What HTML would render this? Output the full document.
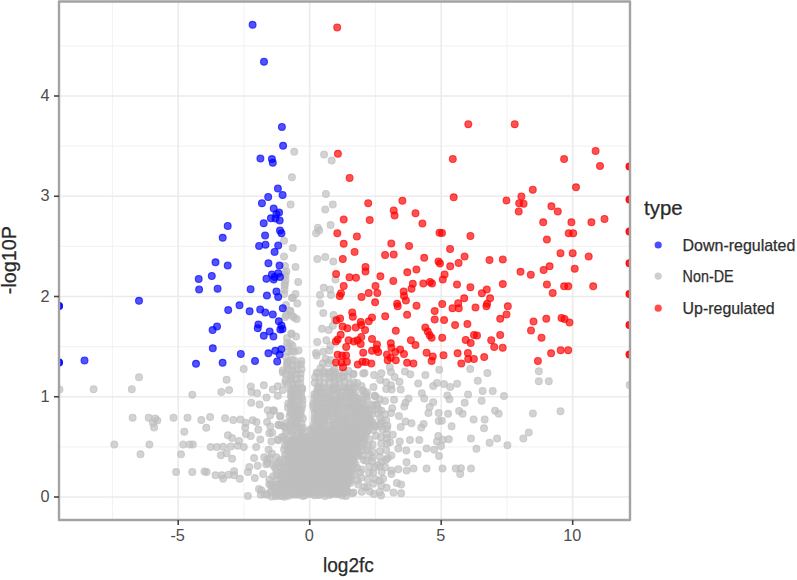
<!DOCTYPE html>
<html><head><meta charset="utf-8"><style>
html,body{margin:0;padding:0;background:#fff;width:797px;height:580px;overflow:hidden}
svg{display:block}
#w{width:797px;height:580px}
text{font-family:"Liberation Sans",sans-serif}
.gm{stroke:#f3f3f3;stroke-width:1.1}
.gM{stroke:#ebebeb;stroke-width:1.6}
.tk{stroke:#444;stroke-width:1.6}
.tl{font-size:16.3px;fill:#4d4d4d}
.at{font-size:20.5px;fill:#2a2a2a;stroke:#2a2a2a;stroke-width:0.25px}
.lg{font-size:16.2px;fill:#2e2e2e;stroke:#2e2e2e;stroke-width:0.25px}
</style></head><body><div id="w">
<svg width="797" height="580" viewBox="0 0 797 580">
<rect width="797" height="580" fill="#fff"/>
<g><line x1="112.45" y1="1.5" x2="112.45" y2="520" class="gm"/><line x1="243.95" y1="1.5" x2="243.95" y2="520" class="gm"/><line x1="375.45" y1="1.5" x2="375.45" y2="520" class="gm"/><line x1="506.95" y1="1.5" x2="506.95" y2="520" class="gm"/><line x1="59" y1="446.88" x2="630" y2="446.88" class="gm"/><line x1="59" y1="346.62" x2="630" y2="346.62" class="gm"/><line x1="59" y1="246.38" x2="630" y2="246.38" class="gm"/><line x1="59" y1="146.12" x2="630" y2="146.12" class="gm"/><line x1="59" y1="45.88" x2="630" y2="45.88" class="gm"/><line x1="178.20" y1="1.5" x2="178.20" y2="520" class="gM"/><line x1="309.70" y1="1.5" x2="309.70" y2="520" class="gM"/><line x1="441.20" y1="1.5" x2="441.20" y2="520" class="gM"/><line x1="572.70" y1="1.5" x2="572.70" y2="520" class="gM"/><line x1="59" y1="497.00" x2="630" y2="497.00" class="gM"/><line x1="59" y1="396.75" x2="630" y2="396.75" class="gM"/><line x1="59" y1="296.50" x2="630" y2="296.50" class="gM"/><line x1="59" y1="196.25" x2="630" y2="196.25" class="gM"/><line x1="59" y1="96.00" x2="630" y2="96.00" class="gM"/></g>
<defs><clipPath id="cp"><rect x="59" y="1.5" width="571" height="518.5"/></clipPath></defs>
<g clip-path="url(#cp)">

<g fill="#bebebe" fill-opacity="0.68" stroke="#bebebe" stroke-opacity="0.68" stroke-width="1.1">
<circle cx="294.2" cy="151.8" r="3.45"/>
<circle cx="291.9" cy="177.3" r="3.45"/>
<circle cx="324.1" cy="154.6" r="3.45"/>
<circle cx="331.7" cy="160.6" r="3.45"/>
<circle cx="325.9" cy="193.9" r="3.45"/>
<circle cx="290.6" cy="204.5" r="3.45"/>
<circle cx="332.8" cy="204.5" r="3.45"/>
<circle cx="325.2" cy="209.6" r="3.45"/>
<circle cx="330.6" cy="225.0" r="3.45"/>
<circle cx="317.9" cy="227.7" r="3.45"/>
<circle cx="319.2" cy="230.5" r="3.45"/>
<circle cx="316.1" cy="233.2" r="3.45"/>
<circle cx="284.0" cy="240.8" r="3.45"/>
<circle cx="292.8" cy="248.1" r="3.45"/>
<circle cx="284.0" cy="256.5" r="3.45"/>
<circle cx="317.3" cy="259.0" r="3.45"/>
<circle cx="325.2" cy="256.9" r="3.45"/>
<circle cx="333.3" cy="261.4" r="3.45"/>
<circle cx="295.5" cy="266.9" r="3.45"/>
<circle cx="286.4" cy="271.4" r="3.45"/>
<circle cx="285.5" cy="276.0" r="3.45"/>
<circle cx="285.5" cy="280.5" r="3.45"/>
<circle cx="298.2" cy="282.0" r="3.45"/>
<circle cx="335.5" cy="279.6" r="3.45"/>
<circle cx="284.6" cy="286.0" r="3.45"/>
<circle cx="323.7" cy="287.8" r="3.45"/>
<circle cx="330.1" cy="289.6" r="3.45"/>
<circle cx="284.0" cy="294.1" r="3.45"/>
<circle cx="295.5" cy="294.1" r="3.45"/>
<circle cx="320.0" cy="295.0" r="3.45"/>
<circle cx="331.0" cy="295.0" r="3.45"/>
<circle cx="291.9" cy="297.8" r="3.45"/>
<circle cx="139.0" cy="377.2" r="3.45"/>
<circle cx="93.6" cy="389.2" r="3.45"/>
<circle cx="131.8" cy="389.2" r="3.45"/>
<circle cx="59.5" cy="389.6" r="3.45"/>
<circle cx="192.3" cy="394.7" r="3.45"/>
<circle cx="292.9" cy="298.1" r="3.45"/>
<circle cx="290.4" cy="311.3" r="3.45"/>
<circle cx="294.1" cy="317.6" r="3.45"/>
<circle cx="285.3" cy="317.0" r="3.45"/>
<circle cx="291.6" cy="333.9" r="3.45"/>
<circle cx="290.4" cy="343.9" r="3.45"/>
<circle cx="287.8" cy="346.4" r="3.45"/>
<circle cx="291.6" cy="351.5" r="3.45"/>
<circle cx="287.8" cy="361.5" r="3.45"/>
<circle cx="294.1" cy="360.2" r="3.45"/>
<circle cx="297.3" cy="303.4" r="3.45"/>
<circle cx="290.1" cy="310.7" r="3.45"/>
<circle cx="286.5" cy="314.9" r="3.45"/>
<circle cx="292.5" cy="316.1" r="3.45"/>
<circle cx="296.7" cy="319.1" r="3.45"/>
<circle cx="291.3" cy="333.6" r="3.45"/>
<circle cx="296.1" cy="336.6" r="3.45"/>
<circle cx="287.1" cy="343.3" r="3.45"/>
<circle cx="292.5" cy="345.7" r="3.45"/>
<circle cx="298.5" cy="350.5" r="3.45"/>
<circle cx="288.3" cy="351.7" r="3.45"/>
<circle cx="294.3" cy="351.7" r="3.45"/>
<circle cx="291.9" cy="360.1" r="3.45"/>
<circle cx="287.1" cy="362.6" r="3.45"/>
<circle cx="320.2" cy="303.4" r="3.45"/>
<circle cx="323.3" cy="313.1" r="3.45"/>
<circle cx="333.5" cy="314.9" r="3.45"/>
<circle cx="334.7" cy="319.7" r="3.45"/>
<circle cx="322.0" cy="328.8" r="3.45"/>
<circle cx="328.7" cy="330.0" r="3.45"/>
<circle cx="332.9" cy="325.8" r="3.45"/>
<circle cx="317.2" cy="342.0" r="3.45"/>
<circle cx="326.3" cy="340.2" r="3.45"/>
<circle cx="330.5" cy="345.7" r="3.45"/>
<circle cx="316.0" cy="352.9" r="3.45"/>
<circle cx="323.3" cy="351.7" r="3.45"/>
<circle cx="329.3" cy="350.5" r="3.45"/>
<circle cx="325.7" cy="358.9" r="3.45"/>
<circle cx="330.5" cy="360.1" r="3.45"/>
<circle cx="243.7" cy="369.0" r="3.45"/>
<circle cx="226.6" cy="379.8" r="3.45"/>
<circle cx="221.3" cy="392.0" r="3.45"/>
<circle cx="229.1" cy="390.1" r="3.45"/>
<circle cx="250.8" cy="386.6" r="3.45"/>
<circle cx="251.5" cy="392.0" r="3.45"/>
<circle cx="257.1" cy="393.2" r="3.45"/>
<circle cx="263.8" cy="385.3" r="3.45"/>
<circle cx="266.5" cy="397.4" r="3.45"/>
<circle cx="251.2" cy="402.7" r="3.45"/>
<circle cx="259.6" cy="404.5" r="3.45"/>
<circle cx="272.8" cy="389.5" r="3.45"/>
<circle cx="277.8" cy="386.3" r="3.45"/>
<circle cx="277.8" cy="395.8" r="3.45"/>
<circle cx="282.8" cy="372.5" r="3.45"/>
<circle cx="287.8" cy="365.0" r="3.45"/>
<circle cx="290.4" cy="377.6" r="3.45"/>
<circle cx="282.8" cy="390.1" r="3.45"/>
<circle cx="285.3" cy="382.6" r="3.45"/>
<circle cx="292.9" cy="385.1" r="3.45"/>
<circle cx="291.6" cy="397.6" r="3.45"/>
<circle cx="291.6" cy="405.2" r="3.45"/>
<circle cx="267.8" cy="410.2" r="3.45"/>
<circle cx="274.0" cy="410.8" r="3.45"/>
<circle cx="270.3" cy="415.2" r="3.45"/>
<circle cx="280.3" cy="416.5" r="3.45"/>
<circle cx="201.3" cy="420.0" r="3.45"/>
<circle cx="210.1" cy="417.1" r="3.45"/>
<circle cx="225.1" cy="418.3" r="3.45"/>
<circle cx="233.3" cy="420.0" r="3.45"/>
<circle cx="240.4" cy="419.6" r="3.45"/>
<circle cx="245.8" cy="422.7" r="3.45"/>
<circle cx="252.7" cy="420.2" r="3.45"/>
<circle cx="256.5" cy="422.1" r="3.45"/>
<circle cx="267.1" cy="422.1" r="3.45"/>
<circle cx="206.3" cy="427.8" r="3.45"/>
<circle cx="245.2" cy="427.8" r="3.45"/>
<circle cx="270.3" cy="426.5" r="3.45"/>
<circle cx="279.1" cy="425.2" r="3.45"/>
<circle cx="285.3" cy="426.5" r="3.45"/>
<circle cx="290.4" cy="412.7" r="3.45"/>
<circle cx="294.1" cy="419.0" r="3.45"/>
<circle cx="292.9" cy="371.3" r="3.45"/>
<circle cx="132.6" cy="417.7" r="3.45"/>
<circle cx="148.7" cy="417.7" r="3.45"/>
<circle cx="155.2" cy="418.4" r="3.45"/>
<circle cx="157.3" cy="420.5" r="3.45"/>
<circle cx="153.0" cy="423.1" r="3.45"/>
<circle cx="154.1" cy="427.4" r="3.45"/>
<circle cx="173.5" cy="417.7" r="3.45"/>
<circle cx="187.5" cy="417.7" r="3.45"/>
<circle cx="184.3" cy="431.7" r="3.45"/>
<circle cx="114.3" cy="444.6" r="3.45"/>
<circle cx="149.4" cy="444.6" r="3.45"/>
<circle cx="183.2" cy="444.6" r="3.45"/>
<circle cx="189.7" cy="444.6" r="3.45"/>
<circle cx="192.9" cy="444.6" r="3.45"/>
<circle cx="140.5" cy="454.3" r="3.45"/>
<circle cx="181.0" cy="454.3" r="3.45"/>
<circle cx="176.1" cy="472.0" r="3.45"/>
<circle cx="192.3" cy="472.0" r="3.45"/>
<circle cx="227.9" cy="435.3" r="3.45"/>
<circle cx="232.1" cy="438.1" r="3.45"/>
<circle cx="239.0" cy="440.9" r="3.45"/>
<circle cx="210.7" cy="447.1" r="3.45"/>
<circle cx="216.9" cy="447.1" r="3.45"/>
<circle cx="223.1" cy="446.8" r="3.45"/>
<circle cx="230.7" cy="446.4" r="3.45"/>
<circle cx="237.6" cy="445.7" r="3.45"/>
<circle cx="243.8" cy="447.1" r="3.45"/>
<circle cx="221.0" cy="455.3" r="3.45"/>
<circle cx="226.6" cy="453.3" r="3.45"/>
<circle cx="232.1" cy="458.8" r="3.45"/>
<circle cx="204.5" cy="471.6" r="3.45"/>
<circle cx="206.6" cy="471.9" r="3.45"/>
<circle cx="215.5" cy="475.3" r="3.45"/>
<circle cx="221.7" cy="475.3" r="3.45"/>
<circle cx="223.1" cy="478.8" r="3.45"/>
<circle cx="228.6" cy="474.7" r="3.45"/>
<circle cx="234.1" cy="471.2" r="3.45"/>
<circle cx="234.1" cy="475.3" r="3.45"/>
<circle cx="239.7" cy="478.8" r="3.45"/>
<circle cx="245.9" cy="434.0" r="3.45"/>
<circle cx="250.7" cy="436.0" r="3.45"/>
<circle cx="258.3" cy="429.8" r="3.45"/>
<circle cx="260.3" cy="439.5" r="3.45"/>
<circle cx="256.2" cy="447.1" r="3.45"/>
<circle cx="254.1" cy="458.1" r="3.45"/>
<circle cx="249.3" cy="467.1" r="3.45"/>
<circle cx="247.9" cy="471.9" r="3.45"/>
<circle cx="257.6" cy="465.7" r="3.45"/>
<circle cx="254.8" cy="478.1" r="3.45"/>
<circle cx="263.1" cy="474.0" r="3.45"/>
<circle cx="247.9" cy="496.0" r="3.45"/>
<circle cx="259.0" cy="489.1" r="3.45"/>
<circle cx="264.5" cy="494.0" r="3.45"/>
<circle cx="269.3" cy="433.3" r="3.45"/>
<circle cx="271.4" cy="441.6" r="3.45"/>
<circle cx="268.6" cy="449.8" r="3.45"/>
<circle cx="278.3" cy="440.2" r="3.45"/>
<circle cx="267.2" cy="459.5" r="3.45"/>
<circle cx="272.8" cy="465.0" r="3.45"/>
<circle cx="269.3" cy="479.5" r="3.45"/>
<circle cx="275.5" cy="491.2" r="3.45"/>
<circle cx="273.4" cy="410.3" r="3.45"/>
<circle cx="280.1" cy="415.9" r="3.45"/>
<circle cx="278.4" cy="424.8" r="3.45"/>
<circle cx="283.4" cy="425.9" r="3.45"/>
<circle cx="272.2" cy="432.7" r="3.45"/>
<circle cx="277.8" cy="439.4" r="3.45"/>
<circle cx="353.6" cy="373.9" r="3.45"/>
<circle cx="364.5" cy="373.0" r="3.45"/>
<circle cx="374.1" cy="375.1" r="3.45"/>
<circle cx="381.4" cy="373.3" r="3.45"/>
<circle cx="391.0" cy="372.1" r="3.45"/>
<circle cx="389.8" cy="367.2" r="3.45"/>
<circle cx="394.6" cy="376.9" r="3.45"/>
<circle cx="404.9" cy="371.5" r="3.45"/>
<circle cx="410.3" cy="374.2" r="3.45"/>
<circle cx="425.4" cy="375.1" r="3.45"/>
<circle cx="439.3" cy="369.7" r="3.45"/>
<circle cx="357.2" cy="382.9" r="3.45"/>
<circle cx="380.2" cy="379.9" r="3.45"/>
<circle cx="386.2" cy="382.3" r="3.45"/>
<circle cx="391.0" cy="385.3" r="3.45"/>
<circle cx="386.2" cy="389.0" r="3.45"/>
<circle cx="391.6" cy="389.6" r="3.45"/>
<circle cx="399.5" cy="381.7" r="3.45"/>
<circle cx="400.7" cy="389.6" r="3.45"/>
<circle cx="373.5" cy="387.1" r="3.45"/>
<circle cx="418.2" cy="383.5" r="3.45"/>
<circle cx="433.2" cy="385.9" r="3.45"/>
<circle cx="436.9" cy="382.9" r="3.45"/>
<circle cx="351.2" cy="389.0" r="3.45"/>
<circle cx="362.1" cy="390.2" r="3.45"/>
<circle cx="365.7" cy="394.4" r="3.45"/>
<circle cx="375.3" cy="396.2" r="3.45"/>
<circle cx="379.6" cy="399.2" r="3.45"/>
<circle cx="385.0" cy="401.0" r="3.45"/>
<circle cx="394.0" cy="399.8" r="3.45"/>
<circle cx="421.8" cy="393.2" r="3.45"/>
<circle cx="424.2" cy="398.6" r="3.45"/>
<circle cx="408.5" cy="398.6" r="3.45"/>
<circle cx="405.5" cy="402.8" r="3.45"/>
<circle cx="404.3" cy="406.4" r="3.45"/>
<circle cx="433.2" cy="402.2" r="3.45"/>
<circle cx="429.6" cy="407.0" r="3.45"/>
<circle cx="428.4" cy="413.1" r="3.45"/>
<circle cx="438.7" cy="413.1" r="3.45"/>
<circle cx="392.2" cy="408.3" r="3.45"/>
<circle cx="391.0" cy="413.1" r="3.45"/>
<circle cx="398.9" cy="416.1" r="3.45"/>
<circle cx="405.5" cy="421.5" r="3.45"/>
<circle cx="411.5" cy="423.3" r="3.45"/>
<circle cx="400.7" cy="426.9" r="3.45"/>
<circle cx="423.6" cy="423.9" r="3.45"/>
<circle cx="421.2" cy="427.6" r="3.45"/>
<circle cx="438.7" cy="420.9" r="3.45"/>
<circle cx="381.4" cy="410.7" r="3.45"/>
<circle cx="385.0" cy="414.3" r="3.45"/>
<circle cx="380.2" cy="417.9" r="3.45"/>
<circle cx="386.2" cy="420.3" r="3.45"/>
<circle cx="380.2" cy="423.9" r="3.45"/>
<circle cx="387.4" cy="425.7" r="3.45"/>
<circle cx="374.1" cy="425.1" r="3.45"/>
<circle cx="371.7" cy="410.7" r="3.45"/>
<circle cx="372.9" cy="405.8" r="3.45"/>
<circle cx="392.8" cy="434.7" r="3.45"/>
<circle cx="399.7" cy="441.6" r="3.45"/>
<circle cx="410.0" cy="439.9" r="3.45"/>
<circle cx="419.3" cy="439.9" r="3.45"/>
<circle cx="426.6" cy="448.5" r="3.45"/>
<circle cx="434.2" cy="449.8" r="3.45"/>
<circle cx="437.0" cy="441.6" r="3.45"/>
<circle cx="438.3" cy="436.0" r="3.45"/>
<circle cx="439.0" cy="456.1" r="3.45"/>
<circle cx="406.3" cy="450.5" r="3.45"/>
<circle cx="417.6" cy="454.3" r="3.45"/>
<circle cx="398.3" cy="448.5" r="3.45"/>
<circle cx="406.6" cy="462.3" r="3.45"/>
<circle cx="391.4" cy="470.6" r="3.45"/>
<circle cx="398.3" cy="469.2" r="3.45"/>
<circle cx="406.6" cy="470.6" r="3.45"/>
<circle cx="413.5" cy="468.5" r="3.45"/>
<circle cx="426.6" cy="468.5" r="3.45"/>
<circle cx="391.4" cy="474.0" r="3.45"/>
<circle cx="383.1" cy="478.8" r="3.45"/>
<circle cx="396.9" cy="483.0" r="3.45"/>
<circle cx="401.1" cy="484.4" r="3.45"/>
<circle cx="386.6" cy="487.8" r="3.45"/>
<circle cx="393.5" cy="492.6" r="3.45"/>
<circle cx="401.1" cy="493.3" r="3.45"/>
<circle cx="381.1" cy="495.4" r="3.45"/>
<circle cx="390.0" cy="442.3" r="3.45"/>
<circle cx="391.4" cy="455.4" r="3.45"/>
<circle cx="377.6" cy="465.0" r="3.45"/>
<circle cx="470.2" cy="369.0" r="3.45"/>
<circle cx="487.4" cy="373.1" r="3.45"/>
<circle cx="477.8" cy="380.7" r="3.45"/>
<circle cx="444.0" cy="384.1" r="3.45"/>
<circle cx="450.2" cy="386.9" r="3.45"/>
<circle cx="457.1" cy="383.7" r="3.45"/>
<circle cx="482.6" cy="391.0" r="3.45"/>
<circle cx="492.7" cy="391.0" r="3.45"/>
<circle cx="468.1" cy="394.5" r="3.45"/>
<circle cx="447.4" cy="395.6" r="3.45"/>
<circle cx="449.5" cy="399.3" r="3.45"/>
<circle cx="504.0" cy="396.1" r="3.45"/>
<circle cx="481.6" cy="400.7" r="3.45"/>
<circle cx="464.7" cy="402.8" r="3.45"/>
<circle cx="448.1" cy="413.8" r="3.45"/>
<circle cx="459.1" cy="411.0" r="3.45"/>
<circle cx="462.6" cy="413.8" r="3.45"/>
<circle cx="495.0" cy="410.8" r="3.45"/>
<circle cx="498.7" cy="413.8" r="3.45"/>
<circle cx="441.9" cy="420.7" r="3.45"/>
<circle cx="451.6" cy="426.2" r="3.45"/>
<circle cx="473.6" cy="419.6" r="3.45"/>
<circle cx="484.7" cy="419.6" r="3.45"/>
<circle cx="484.0" cy="428.3" r="3.45"/>
<circle cx="532.9" cy="413.5" r="3.45"/>
<circle cx="528.8" cy="432.4" r="3.45"/>
<circle cx="448.8" cy="439.3" r="3.45"/>
<circle cx="470.9" cy="438.6" r="3.45"/>
<circle cx="497.1" cy="438.6" r="3.45"/>
<circle cx="523.3" cy="438.6" r="3.45"/>
<circle cx="442.8" cy="439.7" r="3.45"/>
<circle cx="441.0" cy="446.0" r="3.45"/>
<circle cx="476.4" cy="448.8" r="3.45"/>
<circle cx="489.6" cy="442.7" r="3.45"/>
<circle cx="507.4" cy="445.3" r="3.45"/>
<circle cx="442.5" cy="468.6" r="3.45"/>
<circle cx="455.7" cy="468.6" r="3.45"/>
<circle cx="460.9" cy="468.2" r="3.45"/>
<circle cx="460.2" cy="474.0" r="3.45"/>
<circle cx="471.0" cy="468.6" r="3.45"/>
<circle cx="538.8" cy="371.2" r="3.45"/>
<circle cx="538.8" cy="381.2" r="3.45"/>
<circle cx="548.8" cy="381.2" r="3.45"/>
<circle cx="560.5" cy="411.2" r="3.45"/>
<circle cx="629.6" cy="385.0" r="3.45"/>
<circle cx="316.6" cy="355.5" r="3.45"/>
<circle cx="322.9" cy="363.3" r="3.45"/>
<circle cx="328.3" cy="363.3" r="3.45"/>
<circle cx="320.5" cy="367.9" r="3.45"/>
<circle cx="316.6" cy="372.6" r="3.45"/>
<circle cx="315.1" cy="377.3" r="3.45"/>
<circle cx="328.3" cy="373.4" r="3.45"/>
<circle cx="333.0" cy="371.0" r="3.45"/>
<circle cx="336.1" cy="374.9" r="3.45"/>
<circle cx="332.2" cy="377.3" r="3.45"/>
<circle cx="342.2" cy="376.5" r="3.45"/>
<circle cx="348.4" cy="371.0" r="3.45"/>
<circle cx="353.1" cy="374.1" r="3.45"/>
<circle cx="363.2" cy="373.4" r="3.45"/>
<circle cx="324.0" cy="371.0" r="3.45"/>
<circle cx="284.8" cy="273.4" r="3.45"/>
<circle cx="284.8" cy="283.8" r="3.45"/>
<circle cx="284.5" cy="290.0" r="3.45"/>
<circle cx="286.0" cy="305.0" r="3.45"/>
<circle cx="287.0" cy="338.0" r="3.45"/>
<circle cx="286.0" cy="357.0" r="3.45"/>
<circle cx="285.0" cy="266.0" r="3.45"/>
<circle cx="290.5" cy="390.5" r="3.45"/>
<circle cx="293.5" cy="389.0" r="3.45"/>
<circle cx="298.4" cy="390.8" r="3.45"/>
<circle cx="302.0" cy="389.5" r="3.45"/>
<circle cx="291.6" cy="392.9" r="3.45"/>
<circle cx="293.5" cy="392.5" r="3.45"/>
<circle cx="297.6" cy="394.2" r="3.45"/>
<circle cx="301.0" cy="393.6" r="3.45"/>
<circle cx="290.8" cy="396.1" r="3.45"/>
<circle cx="293.3" cy="396.4" r="3.45"/>
<circle cx="298.5" cy="396.9" r="3.45"/>
<circle cx="301.4" cy="397.3" r="3.45"/>
<circle cx="291.4" cy="401.3" r="3.45"/>
<circle cx="293.8" cy="401.0" r="3.45"/>
<circle cx="298.2" cy="401.7" r="3.45"/>
<circle cx="302.4" cy="400.3" r="3.45"/>
<circle cx="288.2" cy="403.6" r="3.45"/>
<circle cx="290.5" cy="405.1" r="3.45"/>
<circle cx="293.6" cy="404.5" r="3.45"/>
<circle cx="297.0" cy="404.9" r="3.45"/>
<circle cx="302.4" cy="404.7" r="3.45"/>
<circle cx="287.9" cy="407.8" r="3.45"/>
<circle cx="291.2" cy="408.4" r="3.45"/>
<circle cx="294.6" cy="408.1" r="3.45"/>
<circle cx="298.9" cy="409.3" r="3.45"/>
<circle cx="301.7" cy="408.6" r="3.45"/>
<circle cx="291.1" cy="413.1" r="3.45"/>
<circle cx="295.2" cy="411.4" r="3.45"/>
<circle cx="297.8" cy="412.3" r="3.45"/>
<circle cx="300.7" cy="411.8" r="3.45"/>
<circle cx="289.6" cy="416.2" r="3.45"/>
<circle cx="293.5" cy="415.0" r="3.45"/>
<circle cx="297.8" cy="416.5" r="3.45"/>
<circle cx="300.8" cy="415.5" r="3.45"/>
<circle cx="291.5" cy="420.2" r="3.45"/>
<circle cx="293.9" cy="419.1" r="3.45"/>
<circle cx="297.8" cy="420.2" r="3.45"/>
<circle cx="302.9" cy="418.5" r="3.45"/>
<circle cx="290.1" cy="423.0" r="3.45"/>
<circle cx="294.6" cy="422.4" r="3.45"/>
<circle cx="296.9" cy="422.8" r="3.45"/>
<circle cx="301.5" cy="423.2" r="3.45"/>
<circle cx="290.7" cy="427.0" r="3.45"/>
<circle cx="294.8" cy="425.6" r="3.45"/>
<circle cx="299.1" cy="427.4" r="3.45"/>
<circle cx="302.7" cy="427.4" r="3.45"/>
<circle cx="289.7" cy="430.7" r="3.45"/>
<circle cx="293.3" cy="429.4" r="3.45"/>
<circle cx="297.4" cy="429.6" r="3.45"/>
<circle cx="301.4" cy="429.3" r="3.45"/>
<circle cx="335.9" cy="385.1" r="3.45"/>
<circle cx="318.1" cy="387.7" r="3.45"/>
<circle cx="321.4" cy="388.4" r="3.45"/>
<circle cx="323.7" cy="388.1" r="3.45"/>
<circle cx="329.4" cy="388.4" r="3.45"/>
<circle cx="332.7" cy="387.6" r="3.45"/>
<circle cx="335.0" cy="388.4" r="3.45"/>
<circle cx="339.1" cy="388.4" r="3.45"/>
<circle cx="344.3" cy="387.5" r="3.45"/>
<circle cx="346.7" cy="388.8" r="3.45"/>
<circle cx="316.9" cy="391.3" r="3.45"/>
<circle cx="321.2" cy="392.4" r="3.45"/>
<circle cx="324.5" cy="392.4" r="3.45"/>
<circle cx="328.4" cy="391.5" r="3.45"/>
<circle cx="332.2" cy="390.2" r="3.45"/>
<circle cx="335.7" cy="390.6" r="3.45"/>
<circle cx="338.3" cy="392.1" r="3.45"/>
<circle cx="342.4" cy="391.3" r="3.45"/>
<circle cx="347.4" cy="391.5" r="3.45"/>
<circle cx="350.2" cy="391.4" r="3.45"/>
<circle cx="314.4" cy="394.2" r="3.45"/>
<circle cx="316.4" cy="395.0" r="3.45"/>
<circle cx="320.0" cy="394.5" r="3.45"/>
<circle cx="323.7" cy="395.5" r="3.45"/>
<circle cx="329.1" cy="396.1" r="3.45"/>
<circle cx="331.3" cy="395.6" r="3.45"/>
<circle cx="336.2" cy="394.2" r="3.45"/>
<circle cx="340.4" cy="396.2" r="3.45"/>
<circle cx="342.5" cy="396.2" r="3.45"/>
<circle cx="346.7" cy="395.1" r="3.45"/>
<circle cx="351.8" cy="395.9" r="3.45"/>
<circle cx="353.5" cy="394.9" r="3.45"/>
<circle cx="314.4" cy="398.2" r="3.45"/>
<circle cx="316.5" cy="399.8" r="3.45"/>
<circle cx="321.2" cy="399.3" r="3.45"/>
<circle cx="323.7" cy="397.7" r="3.45"/>
<circle cx="328.9" cy="398.6" r="3.45"/>
<circle cx="331.1" cy="399.9" r="3.45"/>
<circle cx="336.1" cy="399.5" r="3.45"/>
<circle cx="338.5" cy="399.7" r="3.45"/>
<circle cx="342.2" cy="399.7" r="3.45"/>
<circle cx="346.8" cy="398.4" r="3.45"/>
<circle cx="350.7" cy="399.8" r="3.45"/>
<circle cx="353.7" cy="397.9" r="3.45"/>
<circle cx="358.1" cy="398.2" r="3.45"/>
<circle cx="313.6" cy="403.3" r="3.45"/>
<circle cx="317.0" cy="402.5" r="3.45"/>
<circle cx="321.5" cy="403.7" r="3.45"/>
<circle cx="324.3" cy="403.3" r="3.45"/>
<circle cx="328.9" cy="402.8" r="3.45"/>
<circle cx="331.9" cy="402.1" r="3.45"/>
<circle cx="334.7" cy="401.6" r="3.45"/>
<circle cx="338.5" cy="403.1" r="3.45"/>
<circle cx="342.6" cy="401.7" r="3.45"/>
<circle cx="345.9" cy="403.3" r="3.45"/>
<circle cx="351.5" cy="402.9" r="3.45"/>
<circle cx="353.8" cy="401.9" r="3.45"/>
<circle cx="357.5" cy="402.4" r="3.45"/>
<circle cx="360.9" cy="402.4" r="3.45"/>
<circle cx="313.1" cy="405.6" r="3.45"/>
<circle cx="317.5" cy="406.3" r="3.45"/>
<circle cx="321.6" cy="406.6" r="3.45"/>
<circle cx="325.2" cy="407.1" r="3.45"/>
<circle cx="328.1" cy="405.8" r="3.45"/>
<circle cx="333.3" cy="405.4" r="3.45"/>
<circle cx="336.3" cy="406.5" r="3.45"/>
<circle cx="338.4" cy="407.0" r="3.45"/>
<circle cx="344.1" cy="406.5" r="3.45"/>
<circle cx="347.5" cy="406.9" r="3.45"/>
<circle cx="349.7" cy="406.3" r="3.45"/>
<circle cx="354.3" cy="407.0" r="3.45"/>
<circle cx="358.7" cy="407.0" r="3.45"/>
<circle cx="361.9" cy="407.1" r="3.45"/>
<circle cx="365.8" cy="406.7" r="3.45"/>
<circle cx="314.2" cy="409.3" r="3.45"/>
<circle cx="316.3" cy="409.3" r="3.45"/>
<circle cx="321.6" cy="409.2" r="3.45"/>
<circle cx="325.3" cy="411.0" r="3.45"/>
<circle cx="328.4" cy="409.6" r="3.45"/>
<circle cx="332.0" cy="410.3" r="3.45"/>
<circle cx="336.4" cy="410.2" r="3.45"/>
<circle cx="339.8" cy="408.9" r="3.45"/>
<circle cx="342.4" cy="409.3" r="3.45"/>
<circle cx="347.5" cy="409.4" r="3.45"/>
<circle cx="350.8" cy="408.7" r="3.45"/>
<circle cx="353.2" cy="409.3" r="3.45"/>
<circle cx="358.4" cy="410.4" r="3.45"/>
<circle cx="362.1" cy="409.4" r="3.45"/>
<circle cx="365.4" cy="409.8" r="3.45"/>
<circle cx="314.7" cy="412.7" r="3.45"/>
<circle cx="318.1" cy="413.6" r="3.45"/>
<circle cx="321.9" cy="414.1" r="3.45"/>
<circle cx="324.1" cy="414.6" r="3.45"/>
<circle cx="328.4" cy="412.5" r="3.45"/>
<circle cx="330.9" cy="413.6" r="3.45"/>
<circle cx="335.7" cy="413.1" r="3.45"/>
<circle cx="338.6" cy="413.2" r="3.45"/>
<circle cx="342.8" cy="414.4" r="3.45"/>
<circle cx="345.7" cy="414.2" r="3.45"/>
<circle cx="351.4" cy="412.7" r="3.45"/>
<circle cx="355.3" cy="414.1" r="3.45"/>
<circle cx="359.0" cy="413.1" r="3.45"/>
<circle cx="361.4" cy="413.3" r="3.45"/>
<circle cx="366.6" cy="413.8" r="3.45"/>
<circle cx="368.8" cy="413.4" r="3.45"/>
<circle cx="314.7" cy="417.4" r="3.45"/>
<circle cx="317.8" cy="416.2" r="3.45"/>
<circle cx="321.6" cy="417.2" r="3.45"/>
<circle cx="325.3" cy="417.6" r="3.45"/>
<circle cx="327.9" cy="416.2" r="3.45"/>
<circle cx="333.1" cy="416.4" r="3.45"/>
<circle cx="335.7" cy="416.9" r="3.45"/>
<circle cx="339.0" cy="417.9" r="3.45"/>
<circle cx="344.3" cy="416.7" r="3.45"/>
<circle cx="347.3" cy="416.8" r="3.45"/>
<circle cx="350.7" cy="417.0" r="3.45"/>
<circle cx="353.5" cy="416.5" r="3.45"/>
<circle cx="357.3" cy="418.3" r="3.45"/>
<circle cx="361.7" cy="416.6" r="3.45"/>
<circle cx="366.4" cy="418.5" r="3.45"/>
<circle cx="369.0" cy="416.4" r="3.45"/>
<circle cx="314.7" cy="420.1" r="3.45"/>
<circle cx="317.3" cy="421.3" r="3.45"/>
<circle cx="321.9" cy="420.3" r="3.45"/>
<circle cx="324.2" cy="420.4" r="3.45"/>
<circle cx="328.2" cy="420.9" r="3.45"/>
<circle cx="333.2" cy="421.8" r="3.45"/>
<circle cx="336.7" cy="419.9" r="3.45"/>
<circle cx="338.4" cy="421.5" r="3.45"/>
<circle cx="344.1" cy="420.9" r="3.45"/>
<circle cx="347.1" cy="419.8" r="3.45"/>
<circle cx="350.3" cy="422.0" r="3.45"/>
<circle cx="355.1" cy="421.9" r="3.45"/>
<circle cx="359.1" cy="420.4" r="3.45"/>
<circle cx="360.8" cy="420.2" r="3.45"/>
<circle cx="365.5" cy="421.4" r="3.45"/>
<circle cx="370.2" cy="421.5" r="3.45"/>
<circle cx="313.7" cy="424.9" r="3.45"/>
<circle cx="317.0" cy="424.0" r="3.45"/>
<circle cx="321.2" cy="423.5" r="3.45"/>
<circle cx="324.2" cy="424.6" r="3.45"/>
<circle cx="329.5" cy="425.0" r="3.45"/>
<circle cx="333.0" cy="424.6" r="3.45"/>
<circle cx="335.2" cy="424.1" r="3.45"/>
<circle cx="340.6" cy="425.2" r="3.45"/>
<circle cx="342.7" cy="423.6" r="3.45"/>
<circle cx="346.9" cy="425.1" r="3.45"/>
<circle cx="350.4" cy="424.1" r="3.45"/>
<circle cx="354.7" cy="425.7" r="3.45"/>
<circle cx="357.3" cy="423.6" r="3.45"/>
<circle cx="361.3" cy="424.5" r="3.45"/>
<circle cx="365.8" cy="424.0" r="3.45"/>
<circle cx="369.8" cy="425.3" r="3.45"/>
<circle cx="310.3" cy="429.5" r="3.45"/>
<circle cx="312.8" cy="428.1" r="3.45"/>
<circle cx="316.6" cy="429.5" r="3.45"/>
<circle cx="320.1" cy="427.3" r="3.45"/>
<circle cx="323.6" cy="428.1" r="3.45"/>
<circle cx="329.4" cy="429.3" r="3.45"/>
<circle cx="332.7" cy="429.6" r="3.45"/>
<circle cx="336.8" cy="428.0" r="3.45"/>
<circle cx="338.7" cy="429.4" r="3.45"/>
<circle cx="343.8" cy="427.3" r="3.45"/>
<circle cx="347.3" cy="428.1" r="3.45"/>
<circle cx="350.3" cy="428.0" r="3.45"/>
<circle cx="353.5" cy="427.2" r="3.45"/>
<circle cx="357.5" cy="428.0" r="3.45"/>
<circle cx="362.8" cy="427.5" r="3.45"/>
<circle cx="366.5" cy="427.7" r="3.45"/>
<circle cx="368.8" cy="429.2" r="3.45"/>
<circle cx="302.3" cy="432.8" r="3.45"/>
<circle cx="308.8" cy="431.1" r="3.45"/>
<circle cx="314.6" cy="431.5" r="3.45"/>
<circle cx="317.9" cy="433.1" r="3.45"/>
<circle cx="320.6" cy="431.6" r="3.45"/>
<circle cx="325.8" cy="432.4" r="3.45"/>
<circle cx="327.8" cy="432.6" r="3.45"/>
<circle cx="331.7" cy="431.6" r="3.45"/>
<circle cx="334.6" cy="432.7" r="3.45"/>
<circle cx="340.5" cy="432.4" r="3.45"/>
<circle cx="344.3" cy="431.0" r="3.45"/>
<circle cx="346.3" cy="432.0" r="3.45"/>
<circle cx="351.7" cy="433.2" r="3.45"/>
<circle cx="354.0" cy="431.5" r="3.45"/>
<circle cx="357.8" cy="432.1" r="3.45"/>
<circle cx="362.7" cy="431.3" r="3.45"/>
<circle cx="366.1" cy="432.7" r="3.45"/>
<circle cx="292.1" cy="434.8" r="3.45"/>
<circle cx="294.4" cy="436.4" r="3.45"/>
<circle cx="298.2" cy="434.8" r="3.45"/>
<circle cx="301.4" cy="435.9" r="3.45"/>
<circle cx="305.8" cy="437.0" r="3.45"/>
<circle cx="310.8" cy="437.0" r="3.45"/>
<circle cx="313.0" cy="434.8" r="3.45"/>
<circle cx="316.3" cy="435.8" r="3.45"/>
<circle cx="321.5" cy="435.7" r="3.45"/>
<circle cx="324.1" cy="435.6" r="3.45"/>
<circle cx="328.7" cy="436.2" r="3.45"/>
<circle cx="332.7" cy="436.6" r="3.45"/>
<circle cx="336.2" cy="434.9" r="3.45"/>
<circle cx="340.3" cy="435.3" r="3.45"/>
<circle cx="343.4" cy="435.5" r="3.45"/>
<circle cx="347.5" cy="435.1" r="3.45"/>
<circle cx="350.0" cy="435.2" r="3.45"/>
<circle cx="353.5" cy="436.7" r="3.45"/>
<circle cx="358.2" cy="435.4" r="3.45"/>
<circle cx="361.5" cy="437.0" r="3.45"/>
<circle cx="365.4" cy="435.2" r="3.45"/>
<circle cx="287.6" cy="440.3" r="3.45"/>
<circle cx="292.2" cy="440.5" r="3.45"/>
<circle cx="294.0" cy="439.0" r="3.45"/>
<circle cx="297.9" cy="438.8" r="3.45"/>
<circle cx="303.6" cy="439.7" r="3.45"/>
<circle cx="307.2" cy="439.2" r="3.45"/>
<circle cx="310.8" cy="439.4" r="3.45"/>
<circle cx="313.0" cy="440.2" r="3.45"/>
<circle cx="318.4" cy="438.6" r="3.45"/>
<circle cx="321.2" cy="439.8" r="3.45"/>
<circle cx="324.0" cy="439.2" r="3.45"/>
<circle cx="327.5" cy="438.8" r="3.45"/>
<circle cx="331.5" cy="439.7" r="3.45"/>
<circle cx="336.2" cy="438.8" r="3.45"/>
<circle cx="338.3" cy="439.1" r="3.45"/>
<circle cx="343.6" cy="438.7" r="3.45"/>
<circle cx="346.4" cy="438.8" r="3.45"/>
<circle cx="351.3" cy="439.6" r="3.45"/>
<circle cx="353.3" cy="438.5" r="3.45"/>
<circle cx="357.7" cy="439.6" r="3.45"/>
<circle cx="362.0" cy="438.5" r="3.45"/>
<circle cx="364.6" cy="440.0" r="3.45"/>
<circle cx="287.2" cy="443.4" r="3.45"/>
<circle cx="291.1" cy="443.0" r="3.45"/>
<circle cx="296.0" cy="444.4" r="3.45"/>
<circle cx="298.5" cy="442.5" r="3.45"/>
<circle cx="303.0" cy="442.5" r="3.45"/>
<circle cx="305.0" cy="444.2" r="3.45"/>
<circle cx="309.7" cy="444.0" r="3.45"/>
<circle cx="313.4" cy="444.1" r="3.45"/>
<circle cx="317.2" cy="442.4" r="3.45"/>
<circle cx="319.8" cy="443.3" r="3.45"/>
<circle cx="325.0" cy="444.2" r="3.45"/>
<circle cx="327.4" cy="443.5" r="3.45"/>
<circle cx="331.8" cy="443.2" r="3.45"/>
<circle cx="335.0" cy="442.7" r="3.45"/>
<circle cx="339.6" cy="444.2" r="3.45"/>
<circle cx="342.3" cy="443.2" r="3.45"/>
<circle cx="347.6" cy="444.3" r="3.45"/>
<circle cx="349.9" cy="442.3" r="3.45"/>
<circle cx="355.4" cy="444.3" r="3.45"/>
<circle cx="358.0" cy="442.1" r="3.45"/>
<circle cx="362.7" cy="442.9" r="3.45"/>
<circle cx="287.5" cy="447.7" r="3.45"/>
<circle cx="292.2" cy="446.1" r="3.45"/>
<circle cx="294.4" cy="446.7" r="3.45"/>
<circle cx="298.8" cy="446.6" r="3.45"/>
<circle cx="301.6" cy="446.3" r="3.45"/>
<circle cx="306.7" cy="447.9" r="3.45"/>
<circle cx="308.8" cy="447.0" r="3.45"/>
<circle cx="314.2" cy="445.8" r="3.45"/>
<circle cx="318.1" cy="446.0" r="3.45"/>
<circle cx="321.2" cy="447.0" r="3.45"/>
<circle cx="325.0" cy="446.4" r="3.45"/>
<circle cx="328.2" cy="447.1" r="3.45"/>
<circle cx="331.9" cy="447.3" r="3.45"/>
<circle cx="335.7" cy="446.8" r="3.45"/>
<circle cx="338.4" cy="447.2" r="3.45"/>
<circle cx="343.2" cy="446.3" r="3.45"/>
<circle cx="347.5" cy="447.6" r="3.45"/>
<circle cx="350.5" cy="446.1" r="3.45"/>
<circle cx="354.2" cy="446.0" r="3.45"/>
<circle cx="357.1" cy="446.7" r="3.45"/>
<circle cx="360.7" cy="446.8" r="3.45"/>
<circle cx="287.7" cy="449.5" r="3.45"/>
<circle cx="291.4" cy="450.3" r="3.45"/>
<circle cx="296.2" cy="449.7" r="3.45"/>
<circle cx="299.7" cy="451.8" r="3.45"/>
<circle cx="303.1" cy="451.4" r="3.45"/>
<circle cx="305.5" cy="451.8" r="3.45"/>
<circle cx="309.9" cy="451.7" r="3.45"/>
<circle cx="314.6" cy="449.8" r="3.45"/>
<circle cx="318.0" cy="451.6" r="3.45"/>
<circle cx="320.0" cy="450.2" r="3.45"/>
<circle cx="325.3" cy="449.8" r="3.45"/>
<circle cx="329.4" cy="450.1" r="3.45"/>
<circle cx="332.9" cy="449.7" r="3.45"/>
<circle cx="335.8" cy="451.6" r="3.45"/>
<circle cx="338.8" cy="450.0" r="3.45"/>
<circle cx="343.2" cy="450.2" r="3.45"/>
<circle cx="345.8" cy="449.8" r="3.45"/>
<circle cx="349.8" cy="451.6" r="3.45"/>
<circle cx="354.7" cy="451.5" r="3.45"/>
<circle cx="357.2" cy="451.3" r="3.45"/>
<circle cx="286.8" cy="455.5" r="3.45"/>
<circle cx="291.7" cy="454.0" r="3.45"/>
<circle cx="295.8" cy="453.7" r="3.45"/>
<circle cx="300.0" cy="454.5" r="3.45"/>
<circle cx="302.2" cy="454.9" r="3.45"/>
<circle cx="306.1" cy="453.5" r="3.45"/>
<circle cx="310.5" cy="453.2" r="3.45"/>
<circle cx="314.4" cy="453.7" r="3.45"/>
<circle cx="317.6" cy="455.5" r="3.45"/>
<circle cx="321.2" cy="454.7" r="3.45"/>
<circle cx="324.3" cy="453.1" r="3.45"/>
<circle cx="327.3" cy="453.5" r="3.45"/>
<circle cx="332.4" cy="454.1" r="3.45"/>
<circle cx="335.8" cy="455.2" r="3.45"/>
<circle cx="338.6" cy="453.6" r="3.45"/>
<circle cx="343.6" cy="453.2" r="3.45"/>
<circle cx="345.7" cy="454.0" r="3.45"/>
<circle cx="349.7" cy="454.0" r="3.45"/>
<circle cx="353.6" cy="454.5" r="3.45"/>
<circle cx="358.2" cy="453.6" r="3.45"/>
<circle cx="288.6" cy="458.7" r="3.45"/>
<circle cx="291.2" cy="457.4" r="3.45"/>
<circle cx="293.9" cy="458.3" r="3.45"/>
<circle cx="298.9" cy="457.6" r="3.45"/>
<circle cx="302.8" cy="457.9" r="3.45"/>
<circle cx="307.2" cy="458.6" r="3.45"/>
<circle cx="309.3" cy="459.0" r="3.45"/>
<circle cx="312.5" cy="458.1" r="3.45"/>
<circle cx="317.1" cy="457.4" r="3.45"/>
<circle cx="319.9" cy="458.7" r="3.45"/>
<circle cx="323.5" cy="458.1" r="3.45"/>
<circle cx="329.5" cy="457.1" r="3.45"/>
<circle cx="331.4" cy="458.3" r="3.45"/>
<circle cx="335.8" cy="458.3" r="3.45"/>
<circle cx="340.3" cy="457.2" r="3.45"/>
<circle cx="342.7" cy="457.5" r="3.45"/>
<circle cx="345.8" cy="458.9" r="3.45"/>
<circle cx="351.3" cy="458.5" r="3.45"/>
<circle cx="353.1" cy="458.8" r="3.45"/>
<circle cx="288.2" cy="462.5" r="3.45"/>
<circle cx="291.9" cy="461.1" r="3.45"/>
<circle cx="295.2" cy="461.5" r="3.45"/>
<circle cx="299.5" cy="461.8" r="3.45"/>
<circle cx="301.9" cy="462.0" r="3.45"/>
<circle cx="307.3" cy="461.0" r="3.45"/>
<circle cx="310.8" cy="460.5" r="3.45"/>
<circle cx="313.0" cy="461.1" r="3.45"/>
<circle cx="317.9" cy="462.8" r="3.45"/>
<circle cx="321.6" cy="461.3" r="3.45"/>
<circle cx="325.6" cy="461.3" r="3.45"/>
<circle cx="327.8" cy="462.7" r="3.45"/>
<circle cx="332.4" cy="462.2" r="3.45"/>
<circle cx="336.2" cy="462.8" r="3.45"/>
<circle cx="339.4" cy="462.5" r="3.45"/>
<circle cx="343.7" cy="462.6" r="3.45"/>
<circle cx="346.7" cy="462.2" r="3.45"/>
<circle cx="350.8" cy="461.2" r="3.45"/>
<circle cx="353.6" cy="462.0" r="3.45"/>
<circle cx="288.2" cy="465.7" r="3.45"/>
<circle cx="291.9" cy="466.0" r="3.45"/>
<circle cx="294.1" cy="465.6" r="3.45"/>
<circle cx="298.5" cy="466.2" r="3.45"/>
<circle cx="303.3" cy="466.3" r="3.45"/>
<circle cx="305.2" cy="466.3" r="3.45"/>
<circle cx="310.9" cy="466.5" r="3.45"/>
<circle cx="312.7" cy="464.7" r="3.45"/>
<circle cx="316.4" cy="464.3" r="3.45"/>
<circle cx="321.8" cy="466.1" r="3.45"/>
<circle cx="325.0" cy="466.2" r="3.45"/>
<circle cx="328.7" cy="464.9" r="3.45"/>
<circle cx="331.1" cy="464.4" r="3.45"/>
<circle cx="336.4" cy="464.7" r="3.45"/>
<circle cx="339.1" cy="465.2" r="3.45"/>
<circle cx="342.1" cy="464.8" r="3.45"/>
<circle cx="346.4" cy="465.9" r="3.45"/>
<circle cx="350.3" cy="465.0" r="3.45"/>
<circle cx="284.1" cy="468.4" r="3.45"/>
<circle cx="288.6" cy="468.1" r="3.45"/>
<circle cx="292.2" cy="468.3" r="3.45"/>
<circle cx="293.9" cy="468.4" r="3.45"/>
<circle cx="299.4" cy="470.2" r="3.45"/>
<circle cx="301.3" cy="469.1" r="3.45"/>
<circle cx="306.2" cy="469.8" r="3.45"/>
<circle cx="309.1" cy="469.1" r="3.45"/>
<circle cx="313.2" cy="469.9" r="3.45"/>
<circle cx="316.7" cy="470.2" r="3.45"/>
<circle cx="320.5" cy="468.4" r="3.45"/>
<circle cx="325.2" cy="469.1" r="3.45"/>
<circle cx="327.5" cy="469.4" r="3.45"/>
<circle cx="331.1" cy="469.8" r="3.45"/>
<circle cx="336.3" cy="469.8" r="3.45"/>
<circle cx="339.8" cy="468.8" r="3.45"/>
<circle cx="343.0" cy="468.8" r="3.45"/>
<circle cx="347.8" cy="468.1" r="3.45"/>
<circle cx="351.5" cy="468.0" r="3.45"/>
<circle cx="353.6" cy="468.5" r="3.45"/>
<circle cx="284.6" cy="473.2" r="3.45"/>
<circle cx="287.3" cy="472.4" r="3.45"/>
<circle cx="290.6" cy="473.6" r="3.45"/>
<circle cx="295.5" cy="473.4" r="3.45"/>
<circle cx="298.0" cy="472.7" r="3.45"/>
<circle cx="303.2" cy="473.0" r="3.45"/>
<circle cx="305.3" cy="472.7" r="3.45"/>
<circle cx="310.8" cy="472.2" r="3.45"/>
<circle cx="312.9" cy="472.3" r="3.45"/>
<circle cx="317.8" cy="473.6" r="3.45"/>
<circle cx="320.2" cy="472.0" r="3.45"/>
<circle cx="324.1" cy="472.4" r="3.45"/>
<circle cx="328.5" cy="472.0" r="3.45"/>
<circle cx="331.7" cy="472.1" r="3.45"/>
<circle cx="336.9" cy="473.3" r="3.45"/>
<circle cx="338.5" cy="473.9" r="3.45"/>
<circle cx="342.2" cy="472.5" r="3.45"/>
<circle cx="348.1" cy="473.5" r="3.45"/>
<circle cx="351.2" cy="472.6" r="3.45"/>
<circle cx="284.3" cy="476.4" r="3.45"/>
<circle cx="286.8" cy="476.7" r="3.45"/>
<circle cx="291.2" cy="477.1" r="3.45"/>
<circle cx="296.1" cy="476.3" r="3.45"/>
<circle cx="299.0" cy="477.1" r="3.45"/>
<circle cx="302.3" cy="475.8" r="3.45"/>
<circle cx="306.7" cy="477.4" r="3.45"/>
<circle cx="310.6" cy="477.0" r="3.45"/>
<circle cx="314.4" cy="476.9" r="3.45"/>
<circle cx="317.6" cy="476.4" r="3.45"/>
<circle cx="320.6" cy="476.8" r="3.45"/>
<circle cx="323.7" cy="476.3" r="3.45"/>
<circle cx="329.1" cy="477.0" r="3.45"/>
<circle cx="332.4" cy="475.9" r="3.45"/>
<circle cx="335.6" cy="476.4" r="3.45"/>
<circle cx="339.8" cy="476.3" r="3.45"/>
<circle cx="343.6" cy="477.5" r="3.45"/>
<circle cx="346.1" cy="476.9" r="3.45"/>
<circle cx="351.3" cy="476.2" r="3.45"/>
<circle cx="284.1" cy="480.7" r="3.45"/>
<circle cx="287.7" cy="480.5" r="3.45"/>
<circle cx="292.2" cy="480.3" r="3.45"/>
<circle cx="294.9" cy="481.3" r="3.45"/>
<circle cx="298.1" cy="480.6" r="3.45"/>
<circle cx="302.2" cy="480.8" r="3.45"/>
<circle cx="305.3" cy="481.4" r="3.45"/>
<circle cx="309.6" cy="479.1" r="3.45"/>
<circle cx="313.1" cy="480.0" r="3.45"/>
<circle cx="316.1" cy="480.0" r="3.45"/>
<circle cx="320.8" cy="480.7" r="3.45"/>
<circle cx="324.3" cy="479.6" r="3.45"/>
<circle cx="327.7" cy="480.8" r="3.45"/>
<circle cx="333.2" cy="480.3" r="3.45"/>
<circle cx="335.1" cy="480.9" r="3.45"/>
<circle cx="339.2" cy="479.5" r="3.45"/>
<circle cx="342.3" cy="480.9" r="3.45"/>
<circle cx="347.6" cy="480.5" r="3.45"/>
<circle cx="350.5" cy="480.3" r="3.45"/>
<circle cx="284.8" cy="483.6" r="3.45"/>
<circle cx="288.5" cy="483.3" r="3.45"/>
<circle cx="291.1" cy="483.3" r="3.45"/>
<circle cx="294.9" cy="483.1" r="3.45"/>
<circle cx="297.6" cy="484.4" r="3.45"/>
<circle cx="302.0" cy="483.3" r="3.45"/>
<circle cx="305.7" cy="483.9" r="3.45"/>
<circle cx="309.7" cy="484.2" r="3.45"/>
<circle cx="314.0" cy="483.6" r="3.45"/>
<circle cx="318.3" cy="484.8" r="3.45"/>
<circle cx="319.9" cy="484.7" r="3.45"/>
<circle cx="325.7" cy="484.6" r="3.45"/>
<circle cx="327.5" cy="484.7" r="3.45"/>
<circle cx="332.4" cy="482.7" r="3.45"/>
<circle cx="334.6" cy="485.0" r="3.45"/>
<circle cx="339.9" cy="483.3" r="3.45"/>
<circle cx="342.2" cy="483.0" r="3.45"/>
<circle cx="346.3" cy="484.6" r="3.45"/>
<circle cx="350.2" cy="483.1" r="3.45"/>
<circle cx="287.8" cy="488.2" r="3.45"/>
<circle cx="291.3" cy="488.5" r="3.45"/>
<circle cx="295.2" cy="487.0" r="3.45"/>
<circle cx="298.2" cy="486.7" r="3.45"/>
<circle cx="302.5" cy="486.5" r="3.45"/>
<circle cx="306.1" cy="486.7" r="3.45"/>
<circle cx="309.9" cy="487.6" r="3.45"/>
<circle cx="313.7" cy="488.5" r="3.45"/>
<circle cx="316.1" cy="488.4" r="3.45"/>
<circle cx="320.9" cy="487.8" r="3.45"/>
<circle cx="325.1" cy="488.4" r="3.45"/>
<circle cx="328.1" cy="487.4" r="3.45"/>
<circle cx="333.2" cy="486.6" r="3.45"/>
<circle cx="336.1" cy="487.9" r="3.45"/>
<circle cx="338.4" cy="487.9" r="3.45"/>
<circle cx="343.6" cy="488.6" r="3.45"/>
<circle cx="346.5" cy="488.8" r="3.45"/>
<circle cx="287.5" cy="491.4" r="3.45"/>
<circle cx="292.2" cy="490.8" r="3.45"/>
<circle cx="295.9" cy="491.1" r="3.45"/>
<circle cx="298.8" cy="490.8" r="3.45"/>
<circle cx="302.5" cy="492.4" r="3.45"/>
<circle cx="306.6" cy="492.0" r="3.45"/>
<circle cx="309.5" cy="490.9" r="3.45"/>
<circle cx="313.1" cy="491.5" r="3.45"/>
<circle cx="317.6" cy="492.0" r="3.45"/>
<circle cx="319.9" cy="491.8" r="3.45"/>
<circle cx="325.6" cy="491.4" r="3.45"/>
<circle cx="327.3" cy="490.8" r="3.45"/>
<circle cx="330.9" cy="490.6" r="3.45"/>
<circle cx="336.8" cy="491.6" r="3.45"/>
<circle cx="339.9" cy="492.0" r="3.45"/>
<circle cx="344.2" cy="491.6" r="3.45"/>
<circle cx="347.2" cy="491.6" r="3.45"/>
<circle cx="284.4" cy="494.7" r="3.45"/>
<circle cx="288.5" cy="495.7" r="3.45"/>
<circle cx="291.5" cy="494.4" r="3.45"/>
<circle cx="294.6" cy="494.8" r="3.45"/>
<circle cx="298.4" cy="494.8" r="3.45"/>
<circle cx="302.8" cy="496.0" r="3.45"/>
<circle cx="305.1" cy="495.2" r="3.45"/>
<circle cx="308.8" cy="494.1" r="3.45"/>
<circle cx="314.3" cy="495.2" r="3.45"/>
<circle cx="318.3" cy="494.9" r="3.45"/>
<circle cx="319.8" cy="494.7" r="3.45"/>
<circle cx="324.9" cy="496.1" r="3.45"/>
<circle cx="329.6" cy="494.9" r="3.45"/>
<circle cx="331.9" cy="494.0" r="3.45"/>
<circle cx="336.1" cy="494.3" r="3.45"/>
<circle cx="338.7" cy="493.8" r="3.45"/>
<circle cx="342.0" cy="495.4" r="3.45"/>
<circle cx="346.0" cy="496.1" r="3.45"/>
<circle cx="318.7" cy="430.2" r="3.45"/>
<circle cx="322.2" cy="430.4" r="3.45"/>
<circle cx="324.7" cy="430.7" r="3.45"/>
<circle cx="328.6" cy="430.3" r="3.45"/>
<circle cx="335.2" cy="430.7" r="3.45"/>
<circle cx="339.9" cy="430.7" r="3.45"/>
<circle cx="344.3" cy="431.1" r="3.45"/>
<circle cx="349.2" cy="430.8" r="3.45"/>
<circle cx="351.6" cy="430.3" r="3.45"/>
<circle cx="313.1" cy="434.2" r="3.45"/>
<circle cx="315.9" cy="432.8" r="3.45"/>
<circle cx="319.8" cy="434.0" r="3.45"/>
<circle cx="322.7" cy="434.3" r="3.45"/>
<circle cx="325.2" cy="432.3" r="3.45"/>
<circle cx="329.0" cy="434.0" r="3.45"/>
<circle cx="331.5" cy="433.9" r="3.45"/>
<circle cx="336.5" cy="432.7" r="3.45"/>
<circle cx="339.1" cy="433.7" r="3.45"/>
<circle cx="342.0" cy="432.6" r="3.45"/>
<circle cx="344.8" cy="433.9" r="3.45"/>
<circle cx="349.4" cy="433.2" r="3.45"/>
<circle cx="351.0" cy="434.0" r="3.45"/>
<circle cx="356.0" cy="432.7" r="3.45"/>
<circle cx="302.3" cy="436.6" r="3.45"/>
<circle cx="310.3" cy="436.3" r="3.45"/>
<circle cx="311.5" cy="436.9" r="3.45"/>
<circle cx="316.4" cy="435.8" r="3.45"/>
<circle cx="319.2" cy="436.2" r="3.45"/>
<circle cx="322.3" cy="435.4" r="3.45"/>
<circle cx="324.5" cy="437.8" r="3.45"/>
<circle cx="329.8" cy="436.6" r="3.45"/>
<circle cx="332.4" cy="436.0" r="3.45"/>
<circle cx="336.2" cy="436.4" r="3.45"/>
<circle cx="339.9" cy="437.2" r="3.45"/>
<circle cx="342.9" cy="437.7" r="3.45"/>
<circle cx="344.8" cy="435.5" r="3.45"/>
<circle cx="348.0" cy="435.8" r="3.45"/>
<circle cx="351.0" cy="435.5" r="3.45"/>
<circle cx="355.4" cy="437.5" r="3.45"/>
<circle cx="358.5" cy="437.7" r="3.45"/>
<circle cx="291.7" cy="441.0" r="3.45"/>
<circle cx="295.3" cy="440.1" r="3.45"/>
<circle cx="299.5" cy="441.0" r="3.45"/>
<circle cx="302.9" cy="439.6" r="3.45"/>
<circle cx="305.7" cy="439.1" r="3.45"/>
<circle cx="310.2" cy="441.1" r="3.45"/>
<circle cx="311.7" cy="438.8" r="3.45"/>
<circle cx="315.1" cy="439.5" r="3.45"/>
<circle cx="320.0" cy="440.9" r="3.45"/>
<circle cx="323.1" cy="438.8" r="3.45"/>
<circle cx="326.3" cy="440.4" r="3.45"/>
<circle cx="329.3" cy="441.1" r="3.45"/>
<circle cx="331.1" cy="439.0" r="3.45"/>
<circle cx="336.1" cy="441.0" r="3.45"/>
<circle cx="339.2" cy="439.4" r="3.45"/>
<circle cx="342.3" cy="440.5" r="3.45"/>
<circle cx="344.5" cy="439.5" r="3.45"/>
<circle cx="348.1" cy="439.0" r="3.45"/>
<circle cx="352.0" cy="439.1" r="3.45"/>
<circle cx="354.7" cy="439.0" r="3.45"/>
<circle cx="359.0" cy="438.7" r="3.45"/>
<circle cx="291.9" cy="444.2" r="3.45"/>
<circle cx="296.8" cy="444.1" r="3.45"/>
<circle cx="298.3" cy="443.1" r="3.45"/>
<circle cx="301.5" cy="444.2" r="3.45"/>
<circle cx="306.6" cy="443.5" r="3.45"/>
<circle cx="309.0" cy="442.8" r="3.45"/>
<circle cx="313.2" cy="443.1" r="3.45"/>
<circle cx="316.0" cy="442.3" r="3.45"/>
<circle cx="318.3" cy="442.1" r="3.45"/>
<circle cx="322.8" cy="443.3" r="3.45"/>
<circle cx="324.7" cy="444.1" r="3.45"/>
<circle cx="328.3" cy="443.0" r="3.45"/>
<circle cx="331.4" cy="442.7" r="3.45"/>
<circle cx="336.3" cy="442.8" r="3.45"/>
<circle cx="338.0" cy="443.2" r="3.45"/>
<circle cx="341.7" cy="444.2" r="3.45"/>
<circle cx="344.5" cy="444.3" r="3.45"/>
<circle cx="347.6" cy="444.1" r="3.45"/>
<circle cx="352.4" cy="442.5" r="3.45"/>
<circle cx="355.2" cy="442.7" r="3.45"/>
<circle cx="358.0" cy="442.5" r="3.45"/>
<circle cx="290.5" cy="447.5" r="3.45"/>
<circle cx="291.6" cy="446.0" r="3.45"/>
<circle cx="296.9" cy="445.4" r="3.45"/>
<circle cx="299.7" cy="446.0" r="3.45"/>
<circle cx="303.6" cy="445.3" r="3.45"/>
<circle cx="306.5" cy="446.1" r="3.45"/>
<circle cx="308.2" cy="445.3" r="3.45"/>
<circle cx="313.2" cy="446.6" r="3.45"/>
<circle cx="314.9" cy="446.3" r="3.45"/>
<circle cx="320.0" cy="445.8" r="3.45"/>
<circle cx="322.5" cy="445.6" r="3.45"/>
<circle cx="324.8" cy="447.1" r="3.45"/>
<circle cx="329.4" cy="445.8" r="3.45"/>
<circle cx="331.2" cy="445.5" r="3.45"/>
<circle cx="335.8" cy="446.5" r="3.45"/>
<circle cx="338.3" cy="445.8" r="3.45"/>
<circle cx="342.4" cy="447.0" r="3.45"/>
<circle cx="346.1" cy="446.7" r="3.45"/>
<circle cx="348.0" cy="445.5" r="3.45"/>
<circle cx="352.6" cy="446.3" r="3.45"/>
<circle cx="355.8" cy="445.4" r="3.45"/>
<circle cx="289.3" cy="448.6" r="3.45"/>
<circle cx="293.6" cy="449.7" r="3.45"/>
<circle cx="296.8" cy="449.2" r="3.45"/>
<circle cx="298.4" cy="450.6" r="3.45"/>
<circle cx="302.2" cy="449.0" r="3.45"/>
<circle cx="305.5" cy="450.0" r="3.45"/>
<circle cx="307.9" cy="449.8" r="3.45"/>
<circle cx="312.3" cy="449.8" r="3.45"/>
<circle cx="314.8" cy="450.3" r="3.45"/>
<circle cx="319.8" cy="450.7" r="3.45"/>
<circle cx="321.9" cy="450.3" r="3.45"/>
<circle cx="325.3" cy="450.4" r="3.45"/>
<circle cx="327.8" cy="450.7" r="3.45"/>
<circle cx="333.3" cy="449.8" r="3.45"/>
<circle cx="335.5" cy="449.9" r="3.45"/>
<circle cx="338.9" cy="448.6" r="3.45"/>
<circle cx="343.2" cy="449.1" r="3.45"/>
<circle cx="344.6" cy="448.8" r="3.45"/>
<circle cx="348.1" cy="450.6" r="3.45"/>
<circle cx="350.9" cy="448.8" r="3.45"/>
<circle cx="355.8" cy="449.1" r="3.45"/>
<circle cx="289.8" cy="452.1" r="3.45"/>
<circle cx="293.5" cy="453.6" r="3.45"/>
<circle cx="294.8" cy="452.2" r="3.45"/>
<circle cx="299.2" cy="453.1" r="3.45"/>
<circle cx="302.0" cy="452.2" r="3.45"/>
<circle cx="305.6" cy="452.2" r="3.45"/>
<circle cx="309.3" cy="454.0" r="3.45"/>
<circle cx="311.6" cy="453.3" r="3.45"/>
<circle cx="316.3" cy="452.3" r="3.45"/>
<circle cx="319.8" cy="454.2" r="3.45"/>
<circle cx="322.0" cy="452.9" r="3.45"/>
<circle cx="326.4" cy="453.2" r="3.45"/>
<circle cx="328.6" cy="454.2" r="3.45"/>
<circle cx="332.9" cy="452.7" r="3.45"/>
<circle cx="334.9" cy="452.7" r="3.45"/>
<circle cx="338.6" cy="454.3" r="3.45"/>
<circle cx="342.8" cy="454.1" r="3.45"/>
<circle cx="346.2" cy="453.9" r="3.45"/>
<circle cx="347.6" cy="453.1" r="3.45"/>
<circle cx="353.1" cy="454.1" r="3.45"/>
<circle cx="354.7" cy="452.9" r="3.45"/>
<circle cx="289.1" cy="456.4" r="3.45"/>
<circle cx="291.4" cy="455.5" r="3.45"/>
<circle cx="297.0" cy="457.1" r="3.45"/>
<circle cx="300.2" cy="456.7" r="3.45"/>
<circle cx="303.2" cy="457.3" r="3.45"/>
<circle cx="306.7" cy="455.3" r="3.45"/>
<circle cx="309.4" cy="455.8" r="3.45"/>
<circle cx="312.8" cy="455.9" r="3.45"/>
<circle cx="315.8" cy="457.4" r="3.45"/>
<circle cx="319.3" cy="455.8" r="3.45"/>
<circle cx="322.3" cy="456.2" r="3.45"/>
<circle cx="326.7" cy="455.9" r="3.45"/>
<circle cx="328.4" cy="456.8" r="3.45"/>
<circle cx="331.3" cy="456.6" r="3.45"/>
<circle cx="336.6" cy="456.4" r="3.45"/>
<circle cx="338.2" cy="456.3" r="3.45"/>
<circle cx="342.2" cy="455.6" r="3.45"/>
<circle cx="344.5" cy="455.5" r="3.45"/>
<circle cx="348.2" cy="456.2" r="3.45"/>
<circle cx="351.5" cy="455.8" r="3.45"/>
<circle cx="354.3" cy="456.5" r="3.45"/>
<circle cx="288.6" cy="460.2" r="3.45"/>
<circle cx="292.5" cy="459.8" r="3.45"/>
<circle cx="296.2" cy="459.6" r="3.45"/>
<circle cx="298.7" cy="459.1" r="3.45"/>
<circle cx="301.8" cy="459.7" r="3.45"/>
<circle cx="305.5" cy="459.9" r="3.45"/>
<circle cx="307.9" cy="459.3" r="3.45"/>
<circle cx="313.3" cy="459.1" r="3.45"/>
<circle cx="315.8" cy="459.7" r="3.45"/>
<circle cx="318.5" cy="460.9" r="3.45"/>
<circle cx="321.8" cy="460.4" r="3.45"/>
<circle cx="324.8" cy="458.7" r="3.45"/>
<circle cx="329.8" cy="459.6" r="3.45"/>
<circle cx="331.1" cy="459.4" r="3.45"/>
<circle cx="335.4" cy="460.3" r="3.45"/>
<circle cx="337.9" cy="459.0" r="3.45"/>
<circle cx="343.2" cy="460.3" r="3.45"/>
<circle cx="344.6" cy="459.3" r="3.45"/>
<circle cx="348.3" cy="460.1" r="3.45"/>
<circle cx="352.3" cy="460.5" r="3.45"/>
<circle cx="290.0" cy="463.5" r="3.45"/>
<circle cx="293.6" cy="462.1" r="3.45"/>
<circle cx="296.8" cy="461.8" r="3.45"/>
<circle cx="299.8" cy="463.2" r="3.45"/>
<circle cx="302.5" cy="464.1" r="3.45"/>
<circle cx="306.0" cy="462.8" r="3.45"/>
<circle cx="309.8" cy="463.9" r="3.45"/>
<circle cx="312.7" cy="462.7" r="3.45"/>
<circle cx="315.6" cy="462.9" r="3.45"/>
<circle cx="319.5" cy="462.5" r="3.45"/>
<circle cx="322.0" cy="463.1" r="3.45"/>
<circle cx="325.3" cy="462.6" r="3.45"/>
<circle cx="329.6" cy="463.8" r="3.45"/>
<circle cx="332.2" cy="462.9" r="3.45"/>
<circle cx="334.7" cy="462.5" r="3.45"/>
<circle cx="337.9" cy="463.2" r="3.45"/>
<circle cx="342.3" cy="462.0" r="3.45"/>
<circle cx="346.4" cy="462.6" r="3.45"/>
<circle cx="349.5" cy="463.8" r="3.45"/>
<circle cx="290.3" cy="467.0" r="3.45"/>
<circle cx="292.7" cy="467.5" r="3.45"/>
<circle cx="295.9" cy="466.3" r="3.45"/>
<circle cx="299.6" cy="466.0" r="3.45"/>
<circle cx="302.2" cy="466.5" r="3.45"/>
<circle cx="305.4" cy="467.4" r="3.45"/>
<circle cx="309.5" cy="466.4" r="3.45"/>
<circle cx="311.4" cy="466.0" r="3.45"/>
<circle cx="315.5" cy="466.4" r="3.45"/>
<circle cx="319.2" cy="467.2" r="3.45"/>
<circle cx="323.4" cy="466.3" r="3.45"/>
<circle cx="325.5" cy="466.6" r="3.45"/>
<circle cx="330.1" cy="465.9" r="3.45"/>
<circle cx="332.3" cy="467.1" r="3.45"/>
<circle cx="334.7" cy="465.9" r="3.45"/>
<circle cx="339.9" cy="467.1" r="3.45"/>
<circle cx="342.1" cy="465.4" r="3.45"/>
<circle cx="346.3" cy="466.8" r="3.45"/>
<circle cx="349.5" cy="467.5" r="3.45"/>
<circle cx="289.6" cy="469.8" r="3.45"/>
<circle cx="292.2" cy="470.8" r="3.45"/>
<circle cx="296.2" cy="468.5" r="3.45"/>
<circle cx="299.0" cy="470.3" r="3.45"/>
<circle cx="302.0" cy="470.1" r="3.45"/>
<circle cx="304.6" cy="469.1" r="3.45"/>
<circle cx="309.9" cy="469.8" r="3.45"/>
<circle cx="312.8" cy="468.9" r="3.45"/>
<circle cx="315.7" cy="469.7" r="3.45"/>
<circle cx="318.4" cy="470.0" r="3.45"/>
<circle cx="322.4" cy="470.8" r="3.45"/>
<circle cx="325.8" cy="469.4" r="3.45"/>
<circle cx="328.0" cy="468.8" r="3.45"/>
<circle cx="332.8" cy="468.7" r="3.45"/>
<circle cx="334.5" cy="468.8" r="3.45"/>
<circle cx="338.9" cy="470.4" r="3.45"/>
<circle cx="342.4" cy="470.3" r="3.45"/>
<circle cx="344.3" cy="468.4" r="3.45"/>
<circle cx="349.3" cy="469.2" r="3.45"/>
<circle cx="289.2" cy="472.6" r="3.45"/>
<circle cx="291.5" cy="473.8" r="3.45"/>
<circle cx="296.1" cy="474.0" r="3.45"/>
<circle cx="299.1" cy="473.2" r="3.45"/>
<circle cx="301.9" cy="471.8" r="3.45"/>
<circle cx="306.8" cy="473.8" r="3.45"/>
<circle cx="308.7" cy="473.9" r="3.45"/>
<circle cx="313.2" cy="472.4" r="3.45"/>
<circle cx="315.9" cy="474.0" r="3.45"/>
<circle cx="319.0" cy="474.0" r="3.45"/>
<circle cx="321.7" cy="472.6" r="3.45"/>
<circle cx="326.1" cy="472.2" r="3.45"/>
<circle cx="328.4" cy="473.8" r="3.45"/>
<circle cx="332.2" cy="473.6" r="3.45"/>
<circle cx="334.9" cy="472.1" r="3.45"/>
<circle cx="338.5" cy="472.1" r="3.45"/>
<circle cx="343.2" cy="472.4" r="3.45"/>
<circle cx="345.5" cy="472.0" r="3.45"/>
<circle cx="348.8" cy="472.6" r="3.45"/>
<circle cx="288.7" cy="475.1" r="3.45"/>
<circle cx="293.0" cy="475.8" r="3.45"/>
<circle cx="295.1" cy="476.7" r="3.45"/>
<circle cx="298.2" cy="475.6" r="3.45"/>
<circle cx="303.3" cy="475.3" r="3.45"/>
<circle cx="305.7" cy="477.0" r="3.45"/>
<circle cx="309.8" cy="475.4" r="3.45"/>
<circle cx="312.0" cy="476.7" r="3.45"/>
<circle cx="315.4" cy="477.3" r="3.45"/>
<circle cx="318.3" cy="477.3" r="3.45"/>
<circle cx="322.3" cy="475.5" r="3.45"/>
<circle cx="325.5" cy="475.3" r="3.45"/>
<circle cx="329.4" cy="475.6" r="3.45"/>
<circle cx="333.2" cy="476.4" r="3.45"/>
<circle cx="335.2" cy="475.6" r="3.45"/>
<circle cx="339.1" cy="475.5" r="3.45"/>
<circle cx="343.0" cy="475.3" r="3.45"/>
<circle cx="345.4" cy="476.3" r="3.45"/>
<circle cx="348.1" cy="476.9" r="3.45"/>
<circle cx="288.9" cy="479.9" r="3.45"/>
<circle cx="291.7" cy="479.6" r="3.45"/>
<circle cx="295.6" cy="479.5" r="3.45"/>
<circle cx="298.7" cy="478.5" r="3.45"/>
<circle cx="302.0" cy="478.8" r="3.45"/>
<circle cx="304.9" cy="480.0" r="3.45"/>
<circle cx="308.6" cy="479.3" r="3.45"/>
<circle cx="313.4" cy="480.2" r="3.45"/>
<circle cx="316.6" cy="480.4" r="3.45"/>
<circle cx="318.1" cy="479.0" r="3.45"/>
<circle cx="321.2" cy="479.9" r="3.45"/>
<circle cx="326.0" cy="479.1" r="3.45"/>
<circle cx="328.7" cy="479.9" r="3.45"/>
<circle cx="332.7" cy="478.9" r="3.45"/>
<circle cx="336.3" cy="479.1" r="3.45"/>
<circle cx="339.1" cy="478.7" r="3.45"/>
<circle cx="341.2" cy="480.5" r="3.45"/>
<circle cx="346.0" cy="480.0" r="3.45"/>
<circle cx="347.6" cy="478.4" r="3.45"/>
<circle cx="290.1" cy="483.0" r="3.45"/>
<circle cx="293.1" cy="482.2" r="3.45"/>
<circle cx="295.7" cy="483.2" r="3.45"/>
<circle cx="298.8" cy="481.6" r="3.45"/>
<circle cx="303.3" cy="483.5" r="3.45"/>
<circle cx="305.3" cy="481.7" r="3.45"/>
<circle cx="309.9" cy="483.1" r="3.45"/>
<circle cx="311.3" cy="482.2" r="3.45"/>
<circle cx="314.8" cy="483.5" r="3.45"/>
<circle cx="318.3" cy="483.8" r="3.45"/>
<circle cx="322.9" cy="481.8" r="3.45"/>
<circle cx="326.1" cy="482.5" r="3.45"/>
<circle cx="329.5" cy="483.6" r="3.45"/>
<circle cx="331.7" cy="481.8" r="3.45"/>
<circle cx="336.6" cy="482.6" r="3.45"/>
<circle cx="339.8" cy="483.3" r="3.45"/>
<circle cx="342.7" cy="483.6" r="3.45"/>
<circle cx="345.7" cy="482.7" r="3.45"/>
<circle cx="347.6" cy="483.3" r="3.45"/>
<circle cx="286.5" cy="486.8" r="3.45"/>
<circle cx="288.7" cy="486.2" r="3.45"/>
<circle cx="293.7" cy="486.4" r="3.45"/>
<circle cx="296.0" cy="485.5" r="3.45"/>
<circle cx="298.1" cy="485.8" r="3.45"/>
<circle cx="302.3" cy="485.4" r="3.45"/>
<circle cx="305.3" cy="485.2" r="3.45"/>
<circle cx="309.6" cy="486.5" r="3.45"/>
<circle cx="311.8" cy="485.5" r="3.45"/>
<circle cx="315.7" cy="486.0" r="3.45"/>
<circle cx="320.0" cy="485.7" r="3.45"/>
<circle cx="321.8" cy="487.0" r="3.45"/>
<circle cx="324.7" cy="486.3" r="3.45"/>
<circle cx="328.5" cy="486.9" r="3.45"/>
<circle cx="332.3" cy="486.7" r="3.45"/>
<circle cx="334.7" cy="486.5" r="3.45"/>
<circle cx="339.0" cy="486.0" r="3.45"/>
<circle cx="342.7" cy="486.9" r="3.45"/>
<circle cx="344.5" cy="485.6" r="3.45"/>
<circle cx="289.0" cy="488.6" r="3.45"/>
<circle cx="291.6" cy="488.2" r="3.45"/>
<circle cx="297.1" cy="490.0" r="3.45"/>
<circle cx="298.2" cy="489.9" r="3.45"/>
<circle cx="303.7" cy="489.6" r="3.45"/>
<circle cx="304.9" cy="489.4" r="3.45"/>
<circle cx="308.9" cy="488.7" r="3.45"/>
<circle cx="312.5" cy="488.2" r="3.45"/>
<circle cx="316.7" cy="489.7" r="3.45"/>
<circle cx="319.3" cy="490.4" r="3.45"/>
<circle cx="322.7" cy="488.8" r="3.45"/>
<circle cx="325.0" cy="488.5" r="3.45"/>
<circle cx="327.8" cy="490.1" r="3.45"/>
<circle cx="333.0" cy="488.9" r="3.45"/>
<circle cx="334.7" cy="489.7" r="3.45"/>
<circle cx="339.6" cy="490.4" r="3.45"/>
<circle cx="341.3" cy="490.1" r="3.45"/>
<circle cx="346.2" cy="490.0" r="3.45"/>
<circle cx="289.5" cy="493.0" r="3.45"/>
<circle cx="293.4" cy="493.2" r="3.45"/>
<circle cx="296.9" cy="493.8" r="3.45"/>
<circle cx="299.2" cy="492.7" r="3.45"/>
<circle cx="301.7" cy="492.2" r="3.45"/>
<circle cx="306.0" cy="491.7" r="3.45"/>
<circle cx="309.6" cy="491.9" r="3.45"/>
<circle cx="312.3" cy="493.8" r="3.45"/>
<circle cx="314.7" cy="491.6" r="3.45"/>
<circle cx="318.9" cy="492.0" r="3.45"/>
<circle cx="322.8" cy="491.5" r="3.45"/>
<circle cx="326.4" cy="493.6" r="3.45"/>
<circle cx="329.6" cy="492.5" r="3.45"/>
<circle cx="331.7" cy="493.1" r="3.45"/>
<circle cx="335.5" cy="492.5" r="3.45"/>
<circle cx="338.4" cy="492.6" r="3.45"/>
<circle cx="342.5" cy="493.5" r="3.45"/>
<circle cx="346.4" cy="491.9" r="3.45"/>
<circle cx="279.8" cy="460.1" r="3.45"/>
<circle cx="284.2" cy="459.8" r="3.45"/>
<circle cx="279.4" cy="463.0" r="3.45"/>
<circle cx="284.1" cy="463.4" r="3.45"/>
<circle cx="275.1" cy="468.0" r="3.45"/>
<circle cx="280.2" cy="467.0" r="3.45"/>
<circle cx="283.8" cy="467.0" r="3.45"/>
<circle cx="276.6" cy="471.1" r="3.45"/>
<circle cx="281.2" cy="472.5" r="3.45"/>
<circle cx="283.0" cy="472.8" r="3.45"/>
<circle cx="273.1" cy="476.2" r="3.45"/>
<circle cx="276.7" cy="475.1" r="3.45"/>
<circle cx="280.7" cy="474.9" r="3.45"/>
<circle cx="283.4" cy="475.7" r="3.45"/>
<circle cx="276.5" cy="479.8" r="3.45"/>
<circle cx="280.9" cy="480.3" r="3.45"/>
<circle cx="284.9" cy="480.2" r="3.45"/>
<circle cx="271.2" cy="484.6" r="3.45"/>
<circle cx="275.6" cy="484.6" r="3.45"/>
<circle cx="280.4" cy="484.8" r="3.45"/>
<circle cx="283.1" cy="483.7" r="3.45"/>
<circle cx="272.5" cy="486.9" r="3.45"/>
<circle cx="276.2" cy="487.0" r="3.45"/>
<circle cx="280.1" cy="488.7" r="3.45"/>
<circle cx="283.1" cy="489.0" r="3.45"/>
<circle cx="271.3" cy="491.9" r="3.45"/>
<circle cx="276.8" cy="492.2" r="3.45"/>
<circle cx="279.1" cy="490.9" r="3.45"/>
<circle cx="283.1" cy="492.7" r="3.45"/>
<circle cx="271.5" cy="496.4" r="3.45"/>
<circle cx="275.7" cy="495.1" r="3.45"/>
<circle cx="280.9" cy="496.1" r="3.45"/>
<circle cx="284.5" cy="496.7" r="3.45"/>
<circle cx="281.0" cy="425.1" r="3.45"/>
<circle cx="285.9" cy="423.1" r="3.45"/>
<circle cx="285.6" cy="428.1" r="3.45"/>
<circle cx="286.0" cy="432.3" r="3.45"/>
<circle cx="281.9" cy="437.1" r="3.45"/>
<circle cx="284.2" cy="436.4" r="3.45"/>
<circle cx="285.4" cy="439.9" r="3.45"/>
<circle cx="285.1" cy="445.4" r="3.45"/>
<circle cx="284.0" cy="449.6" r="3.45"/>
<circle cx="285.1" cy="454.8" r="3.45"/>
<circle cx="301.3" cy="361.1" r="3.45"/>
<circle cx="286.9" cy="365.5" r="3.45"/>
<circle cx="292.5" cy="365.5" r="3.45"/>
<circle cx="296.7" cy="365.1" r="3.45"/>
<circle cx="300.9" cy="364.3" r="3.45"/>
<circle cx="282.7" cy="370.5" r="3.45"/>
<circle cx="287.9" cy="370.0" r="3.45"/>
<circle cx="291.1" cy="370.2" r="3.45"/>
<circle cx="297.0" cy="369.6" r="3.45"/>
<circle cx="301.5" cy="369.2" r="3.45"/>
<circle cx="285.7" cy="374.0" r="3.45"/>
<circle cx="291.2" cy="375.6" r="3.45"/>
<circle cx="296.4" cy="374.1" r="3.45"/>
<circle cx="300.6" cy="373.8" r="3.45"/>
<circle cx="285.6" cy="380.1" r="3.45"/>
<circle cx="291.5" cy="379.1" r="3.45"/>
<circle cx="296.6" cy="378.7" r="3.45"/>
<circle cx="300.4" cy="378.2" r="3.45"/>
<circle cx="287.3" cy="384.1" r="3.45"/>
<circle cx="292.6" cy="383.6" r="3.45"/>
<circle cx="297.4" cy="384.2" r="3.45"/>
<circle cx="300.2" cy="383.2" r="3.45"/>
<circle cx="291.4" cy="389.7" r="3.45"/>
<circle cx="295.4" cy="388.8" r="3.45"/>
<circle cx="302.2" cy="388.3" r="3.45"/>
<circle cx="334.2" cy="368.9" r="3.45"/>
<circle cx="318.3" cy="373.1" r="3.45"/>
<circle cx="324.9" cy="373.3" r="3.45"/>
<circle cx="330.0" cy="372.3" r="3.45"/>
<circle cx="333.6" cy="373.6" r="3.45"/>
<circle cx="339.4" cy="372.8" r="3.45"/>
<circle cx="344.4" cy="372.6" r="3.45"/>
<circle cx="319.2" cy="377.4" r="3.45"/>
<circle cx="323.9" cy="376.8" r="3.45"/>
<circle cx="330.0" cy="378.2" r="3.45"/>
<circle cx="335.2" cy="376.9" r="3.45"/>
<circle cx="339.3" cy="378.5" r="3.45"/>
<circle cx="343.6" cy="377.0" r="3.45"/>
<circle cx="348.2" cy="377.1" r="3.45"/>
<circle cx="314.8" cy="382.8" r="3.45"/>
<circle cx="319.1" cy="383.2" r="3.45"/>
<circle cx="324.1" cy="383.4" r="3.45"/>
<circle cx="329.2" cy="382.6" r="3.45"/>
<circle cx="334.6" cy="382.4" r="3.45"/>
<circle cx="339.5" cy="383.6" r="3.45"/>
<circle cx="344.7" cy="382.5" r="3.45"/>
<circle cx="349.7" cy="384.1" r="3.45"/>
<circle cx="353.9" cy="382.5" r="3.45"/>
<circle cx="318.1" cy="386.8" r="3.45"/>
<circle cx="347.9" cy="388.0" r="3.45"/>
<circle cx="354.1" cy="387.2" r="3.45"/>
<circle cx="349.7" cy="392.9" r="3.45"/>
<circle cx="361.5" cy="385.9" r="3.45"/>
<circle cx="354.6" cy="388.5" r="3.45"/>
<circle cx="363.3" cy="390.7" r="3.45"/>
<circle cx="367.0" cy="392.6" r="3.45"/>
<circle cx="351.3" cy="397.7" r="3.45"/>
<circle cx="354.9" cy="395.1" r="3.45"/>
<circle cx="361.9" cy="398.0" r="3.45"/>
<circle cx="366.2" cy="397.0" r="3.45"/>
<circle cx="374.5" cy="395.8" r="3.45"/>
<circle cx="357.9" cy="400.3" r="3.45"/>
<circle cx="363.9" cy="404.6" r="3.45"/>
<circle cx="366.9" cy="399.5" r="3.45"/>
<circle cx="372.0" cy="404.5" r="3.45"/>
<circle cx="377.4" cy="404.1" r="3.45"/>
<circle cx="357.0" cy="405.9" r="3.45"/>
<circle cx="361.2" cy="410.2" r="3.45"/>
<circle cx="369.1" cy="410.0" r="3.45"/>
<circle cx="376.5" cy="405.6" r="3.45"/>
<circle cx="378.6" cy="409.5" r="3.45"/>
<circle cx="355.6" cy="411.9" r="3.45"/>
<circle cx="359.5" cy="416.6" r="3.45"/>
<circle cx="367.0" cy="416.0" r="3.45"/>
<circle cx="372.0" cy="413.9" r="3.45"/>
<circle cx="378.1" cy="413.6" r="3.45"/>
<circle cx="356.0" cy="418.0" r="3.45"/>
<circle cx="361.2" cy="420.0" r="3.45"/>
<circle cx="370.2" cy="419.2" r="3.45"/>
<circle cx="372.5" cy="422.4" r="3.45"/>
<circle cx="382.0" cy="421.2" r="3.45"/>
<circle cx="353.6" cy="426.0" r="3.45"/>
<circle cx="361.5" cy="426.3" r="3.45"/>
<circle cx="367.3" cy="423.5" r="3.45"/>
<circle cx="375.0" cy="426.8" r="3.45"/>
<circle cx="380.2" cy="426.3" r="3.45"/>
<circle cx="387.0" cy="428.5" r="3.45"/>
<circle cx="355.5" cy="431.1" r="3.45"/>
<circle cx="361.6" cy="434.5" r="3.45"/>
<circle cx="367.4" cy="431.4" r="3.45"/>
<circle cx="373.5" cy="430.1" r="3.45"/>
<circle cx="382.6" cy="429.4" r="3.45"/>
<circle cx="386.6" cy="434.2" r="3.45"/>
<circle cx="355.4" cy="436.7" r="3.45"/>
<circle cx="360.4" cy="436.0" r="3.45"/>
<circle cx="369.8" cy="439.5" r="3.45"/>
<circle cx="376.1" cy="435.7" r="3.45"/>
<circle cx="381.0" cy="437.1" r="3.45"/>
<circle cx="386.8" cy="438.3" r="3.45"/>
<circle cx="353.4" cy="445.3" r="3.45"/>
<circle cx="363.8" cy="444.1" r="3.45"/>
<circle cx="368.5" cy="446.6" r="3.45"/>
<circle cx="372.6" cy="444.7" r="3.45"/>
<circle cx="381.3" cy="443.4" r="3.45"/>
<circle cx="387.1" cy="443.4" r="3.45"/>
<circle cx="356.9" cy="449.1" r="3.45"/>
<circle cx="362.7" cy="450.2" r="3.45"/>
<circle cx="366.6" cy="450.6" r="3.45"/>
<circle cx="372.8" cy="452.1" r="3.45"/>
<circle cx="379.9" cy="451.2" r="3.45"/>
<circle cx="386.1" cy="449.9" r="3.45"/>
<circle cx="358.2" cy="456.1" r="3.45"/>
<circle cx="362.1" cy="456.1" r="3.45"/>
<circle cx="369.6" cy="454.6" r="3.45"/>
<circle cx="372.3" cy="457.7" r="3.45"/>
<circle cx="379.8" cy="456.7" r="3.45"/>
<circle cx="387.7" cy="458.0" r="3.45"/>
<circle cx="351.9" cy="459.6" r="3.45"/>
<circle cx="355.4" cy="463.7" r="3.45"/>
<circle cx="363.7" cy="460.0" r="3.45"/>
<circle cx="366.2" cy="460.7" r="3.45"/>
<circle cx="371.9" cy="461.3" r="3.45"/>
<circle cx="381.6" cy="462.1" r="3.45"/>
<circle cx="385.8" cy="459.9" r="3.45"/>
<circle cx="357.0" cy="467.7" r="3.45"/>
<circle cx="361.9" cy="469.6" r="3.45"/>
<circle cx="369.3" cy="466.2" r="3.45"/>
<circle cx="374.9" cy="467.3" r="3.45"/>
<circle cx="380.1" cy="466.6" r="3.45"/>
<circle cx="385.3" cy="467.2" r="3.45"/>
<circle cx="354.4" cy="474.4" r="3.45"/>
<circle cx="359.7" cy="472.3" r="3.45"/>
<circle cx="369.1" cy="472.8" r="3.45"/>
<circle cx="373.1" cy="472.7" r="3.45"/>
<circle cx="381.7" cy="471.9" r="3.45"/>
<circle cx="357.5" cy="480.6" r="3.45"/>
<circle cx="361.3" cy="477.6" r="3.45"/>
<circle cx="367.7" cy="479.3" r="3.45"/>
<circle cx="375.1" cy="478.9" r="3.45"/>
<circle cx="379.5" cy="480.8" r="3.45"/>
<circle cx="358.2" cy="484.4" r="3.45"/>
<circle cx="364.5" cy="487.1" r="3.45"/>
<circle cx="367.3" cy="486.9" r="3.45"/>
<circle cx="373.1" cy="483.8" r="3.45"/>
<circle cx="381.3" cy="485.4" r="3.45"/>
<circle cx="352.1" cy="493.3" r="3.45"/>
<circle cx="353.5" cy="492.5" r="3.45"/>
<circle cx="361.8" cy="491.8" r="3.45"/>
<circle cx="369.8" cy="491.6" r="3.45"/>
<circle cx="373.9" cy="494.0" r="3.45"/>
<circle cx="379.7" cy="492.0" r="3.45"/>
<circle cx="269.3" cy="484.3" r="3.45"/>
<circle cx="271.7" cy="484.9" r="3.45"/>
<circle cx="281.1" cy="483.9" r="3.45"/>
<circle cx="261.6" cy="490.4" r="3.45"/>
<circle cx="270.6" cy="491.6" r="3.45"/>
<circle cx="275.9" cy="488.2" r="3.45"/>
<circle cx="279.1" cy="490.1" r="3.45"/>
<circle cx="260.8" cy="494.8" r="3.45"/>
<circle cx="267.0" cy="494.7" r="3.45"/>
<circle cx="275.9" cy="496.3" r="3.45"/>
<circle cx="280.1" cy="495.6" r="3.45"/>
<circle cx="271.9" cy="453.6" r="3.45"/>
<circle cx="264.2" cy="457.3" r="3.45"/>
<circle cx="269.8" cy="457.9" r="3.45"/>
<circle cx="276.4" cy="457.3" r="3.45"/>
<circle cx="266.2" cy="464.3" r="3.45"/>
<circle cx="267.7" cy="463.0" r="3.45"/>
<circle cx="276.2" cy="463.5" r="3.45"/>
</g>
<g fill="#0000ff" fill-opacity="0.68" stroke="#0000ff" stroke-opacity="0.68" stroke-width="1.1">
<circle cx="252.6" cy="24.8" r="3.45"/>
<circle cx="264.0" cy="61.7" r="3.45"/>
<circle cx="281.9" cy="126.9" r="3.45"/>
<circle cx="283.1" cy="145.8" r="3.45"/>
<circle cx="260.4" cy="158.6" r="3.45"/>
<circle cx="271.9" cy="159.1" r="3.45"/>
<circle cx="272.8" cy="162.8" r="3.45"/>
<circle cx="277.9" cy="188.6" r="3.45"/>
<circle cx="282.6" cy="195.0" r="3.45"/>
<circle cx="268.2" cy="197.0" r="3.45"/>
<circle cx="198.7" cy="279.0" r="3.45"/>
<circle cx="199.1" cy="289.6" r="3.45"/>
<circle cx="261.9" cy="203.2" r="3.45"/>
<circle cx="273.7" cy="208.6" r="3.45"/>
<circle cx="279.1" cy="212.6" r="3.45"/>
<circle cx="276.4" cy="214.1" r="3.45"/>
<circle cx="270.9" cy="218.3" r="3.45"/>
<circle cx="275.5" cy="218.6" r="3.45"/>
<circle cx="279.7" cy="220.5" r="3.45"/>
<circle cx="263.7" cy="223.2" r="3.45"/>
<circle cx="227.7" cy="225.9" r="3.45"/>
<circle cx="280.0" cy="230.5" r="3.45"/>
<circle cx="281.5" cy="233.2" r="3.45"/>
<circle cx="222.7" cy="237.8" r="3.45"/>
<circle cx="265.1" cy="235.4" r="3.45"/>
<circle cx="259.1" cy="245.9" r="3.45"/>
<circle cx="265.5" cy="244.7" r="3.45"/>
<circle cx="278.2" cy="245.6" r="3.45"/>
<circle cx="274.6" cy="251.9" r="3.45"/>
<circle cx="215.5" cy="262.3" r="3.45"/>
<circle cx="227.7" cy="265.6" r="3.45"/>
<circle cx="268.4" cy="263.2" r="3.45"/>
<circle cx="279.5" cy="265.6" r="3.45"/>
<circle cx="211.8" cy="276.0" r="3.45"/>
<circle cx="271.9" cy="274.5" r="3.45"/>
<circle cx="274.6" cy="276.9" r="3.45"/>
<circle cx="278.2" cy="273.2" r="3.45"/>
<circle cx="266.4" cy="278.7" r="3.45"/>
<circle cx="273.7" cy="279.6" r="3.45"/>
<circle cx="280.0" cy="276.9" r="3.45"/>
<circle cx="217.6" cy="288.7" r="3.45"/>
<circle cx="250.6" cy="289.2" r="3.45"/>
<circle cx="276.4" cy="291.4" r="3.45"/>
<circle cx="266.9" cy="295.6" r="3.45"/>
<circle cx="278.2" cy="296.9" r="3.45"/>
<circle cx="139.0" cy="300.8" r="3.45"/>
<circle cx="59.0" cy="305.9" r="3.45"/>
<circle cx="59.0" cy="362.5" r="3.45"/>
<circle cx="59.0" cy="362.5" r="3.45"/>
<circle cx="84.5" cy="360.5" r="3.45"/>
<circle cx="196.0" cy="363.8" r="3.45"/>
<circle cx="239.5" cy="305.3" r="3.45"/>
<circle cx="228.2" cy="310.1" r="3.45"/>
<circle cx="249.6" cy="311.3" r="3.45"/>
<circle cx="260.2" cy="309.4" r="3.45"/>
<circle cx="265.3" cy="312.6" r="3.45"/>
<circle cx="272.8" cy="314.4" r="3.45"/>
<circle cx="282.8" cy="308.2" r="3.45"/>
<circle cx="217.0" cy="326.4" r="3.45"/>
<circle cx="212.6" cy="330.1" r="3.45"/>
<circle cx="258.4" cy="324.5" r="3.45"/>
<circle cx="257.7" cy="328.2" r="3.45"/>
<circle cx="263.8" cy="335.8" r="3.45"/>
<circle cx="269.7" cy="331.6" r="3.45"/>
<circle cx="273.4" cy="336.4" r="3.45"/>
<circle cx="278.8" cy="321.3" r="3.45"/>
<circle cx="281.5" cy="325.5" r="3.45"/>
<circle cx="282.5" cy="329.0" r="3.45"/>
<circle cx="280.3" cy="329.5" r="3.45"/>
<circle cx="212.8" cy="348.3" r="3.45"/>
<circle cx="240.8" cy="354.0" r="3.45"/>
<circle cx="268.4" cy="353.3" r="3.45"/>
<circle cx="275.3" cy="350.8" r="3.45"/>
<circle cx="281.3" cy="349.2" r="3.45"/>
<circle cx="279.7" cy="354.6" r="3.45"/>
<circle cx="222.6" cy="362.8" r="3.45"/>
<circle cx="255.0" cy="360.9" r="3.45"/>
<circle cx="277.2" cy="361.5" r="3.45"/>
<circle cx="59.0" cy="305.9" r="3.45"/>
</g>
<g fill="#ff0000" fill-opacity="0.68" stroke="#ff0000" stroke-opacity="0.68" stroke-width="1.1">
<circle cx="337.2" cy="27.4" r="3.45"/>
<circle cx="468.3" cy="124.2" r="3.45"/>
<circle cx="337.9" cy="153.8" r="3.45"/>
<circle cx="452.8" cy="159.1" r="3.45"/>
<circle cx="349.6" cy="177.9" r="3.45"/>
<circle cx="453.7" cy="197.3" r="3.45"/>
<circle cx="514.7" cy="124.2" r="3.45"/>
<circle cx="595.6" cy="150.9" r="3.45"/>
<circle cx="564.1" cy="159.1" r="3.45"/>
<circle cx="600.0" cy="165.9" r="3.45"/>
<circle cx="629.6" cy="166.4" r="3.45"/>
<circle cx="576.0" cy="187.3" r="3.45"/>
<circle cx="532.8" cy="189.7" r="3.45"/>
<circle cx="521.4" cy="196.4" r="3.45"/>
<circle cx="343.7" cy="219.6" r="3.45"/>
<circle cx="337.3" cy="233.2" r="3.45"/>
<circle cx="343.7" cy="243.8" r="3.45"/>
<circle cx="342.8" cy="259.0" r="3.45"/>
<circle cx="336.1" cy="274.1" r="3.45"/>
<circle cx="343.7" cy="286.0" r="3.45"/>
<circle cx="341.0" cy="293.2" r="3.45"/>
<circle cx="339.7" cy="296.0" r="3.45"/>
<circle cx="368.2" cy="203.2" r="3.45"/>
<circle cx="402.4" cy="200.8" r="3.45"/>
<circle cx="393.7" cy="210.5" r="3.45"/>
<circle cx="394.6" cy="215.4" r="3.45"/>
<circle cx="415.5" cy="213.2" r="3.45"/>
<circle cx="369.7" cy="220.1" r="3.45"/>
<circle cx="422.4" cy="223.6" r="3.45"/>
<circle cx="356.9" cy="236.5" r="3.45"/>
<circle cx="439.5" cy="232.7" r="3.45"/>
<circle cx="442.0" cy="232.9" r="3.45"/>
<circle cx="470.4" cy="235.9" r="3.45"/>
<circle cx="391.3" cy="243.6" r="3.45"/>
<circle cx="409.1" cy="245.9" r="3.45"/>
<circle cx="354.6" cy="251.9" r="3.45"/>
<circle cx="385.1" cy="255.0" r="3.45"/>
<circle cx="393.7" cy="254.5" r="3.45"/>
<circle cx="450.1" cy="249.0" r="3.45"/>
<circle cx="464.6" cy="256.5" r="3.45"/>
<circle cx="424.2" cy="257.8" r="3.45"/>
<circle cx="438.5" cy="261.5" r="3.45"/>
<circle cx="440.0" cy="263.5" r="3.45"/>
<circle cx="458.6" cy="262.9" r="3.45"/>
<circle cx="365.5" cy="266.9" r="3.45"/>
<circle cx="365.5" cy="271.4" r="3.45"/>
<circle cx="450.2" cy="266.3" r="3.45"/>
<circle cx="416.4" cy="269.6" r="3.45"/>
<circle cx="407.3" cy="272.3" r="3.45"/>
<circle cx="444.6" cy="274.5" r="3.45"/>
<circle cx="442.8" cy="279.6" r="3.45"/>
<circle cx="380.4" cy="276.3" r="3.45"/>
<circle cx="349.5" cy="277.2" r="3.45"/>
<circle cx="356.0" cy="277.8" r="3.45"/>
<circle cx="393.3" cy="280.9" r="3.45"/>
<circle cx="412.8" cy="283.8" r="3.45"/>
<circle cx="411.5" cy="288.7" r="3.45"/>
<circle cx="423.3" cy="283.6" r="3.45"/>
<circle cx="430.0" cy="282.0" r="3.45"/>
<circle cx="432.0" cy="283.5" r="3.45"/>
<circle cx="457.0" cy="284.5" r="3.45"/>
<circle cx="470.4" cy="287.2" r="3.45"/>
<circle cx="375.5" cy="286.0" r="3.45"/>
<circle cx="368.7" cy="292.9" r="3.45"/>
<circle cx="377.3" cy="292.9" r="3.45"/>
<circle cx="403.7" cy="291.4" r="3.45"/>
<circle cx="404.0" cy="296.0" r="3.45"/>
<circle cx="361.5" cy="296.9" r="3.45"/>
<circle cx="481.9" cy="293.2" r="3.45"/>
<circle cx="464.2" cy="298.3" r="3.45"/>
<circle cx="506.5" cy="200.5" r="3.45"/>
<circle cx="519.2" cy="203.2" r="3.45"/>
<circle cx="523.6" cy="203.7" r="3.45"/>
<circle cx="518.7" cy="211.4" r="3.45"/>
<circle cx="551.4" cy="206.3" r="3.45"/>
<circle cx="557.8" cy="211.4" r="3.45"/>
<circle cx="543.2" cy="222.3" r="3.45"/>
<circle cx="571.4" cy="222.3" r="3.45"/>
<circle cx="591.4" cy="222.3" r="3.45"/>
<circle cx="604.5" cy="219.0" r="3.45"/>
<circle cx="568.7" cy="233.2" r="3.45"/>
<circle cx="573.2" cy="233.2" r="3.45"/>
<circle cx="546.9" cy="239.6" r="3.45"/>
<circle cx="629.6" cy="199.5" r="3.45"/>
<circle cx="629.6" cy="231.4" r="3.45"/>
<circle cx="560.5" cy="253.2" r="3.45"/>
<circle cx="572.7" cy="253.2" r="3.45"/>
<circle cx="588.7" cy="256.5" r="3.45"/>
<circle cx="489.5" cy="260.1" r="3.45"/>
<circle cx="502.8" cy="259.6" r="3.45"/>
<circle cx="549.6" cy="266.3" r="3.45"/>
<circle cx="543.6" cy="270.0" r="3.45"/>
<circle cx="574.7" cy="268.7" r="3.45"/>
<circle cx="520.5" cy="271.8" r="3.45"/>
<circle cx="530.8" cy="274.7" r="3.45"/>
<circle cx="629.6" cy="263.2" r="3.45"/>
<circle cx="502.8" cy="284.1" r="3.45"/>
<circle cx="546.9" cy="284.5" r="3.45"/>
<circle cx="564.1" cy="286.3" r="3.45"/>
<circle cx="568.3" cy="286.3" r="3.45"/>
<circle cx="593.2" cy="286.3" r="3.45"/>
<circle cx="552.7" cy="292.9" r="3.45"/>
<circle cx="486.8" cy="289.6" r="3.45"/>
<circle cx="490.1" cy="298.3" r="3.45"/>
<circle cx="629.6" cy="294.1" r="3.45"/>
<circle cx="352.2" cy="312.5" r="3.45"/>
<circle cx="352.8" cy="316.7" r="3.45"/>
<circle cx="340.1" cy="318.5" r="3.45"/>
<circle cx="336.5" cy="320.3" r="3.45"/>
<circle cx="342.6" cy="326.4" r="3.45"/>
<circle cx="347.4" cy="328.2" r="3.45"/>
<circle cx="340.7" cy="334.8" r="3.45"/>
<circle cx="337.7" cy="339.6" r="3.45"/>
<circle cx="335.9" cy="341.4" r="3.45"/>
<circle cx="348.6" cy="340.2" r="3.45"/>
<circle cx="354.0" cy="341.4" r="3.45"/>
<circle cx="346.2" cy="346.9" r="3.45"/>
<circle cx="375.1" cy="302.3" r="3.45"/>
<circle cx="397.1" cy="303.8" r="3.45"/>
<circle cx="397.7" cy="306.3" r="3.45"/>
<circle cx="405.9" cy="300.6" r="3.45"/>
<circle cx="416.5" cy="305.7" r="3.45"/>
<circle cx="442.2" cy="304.0" r="3.45"/>
<circle cx="434.7" cy="311.1" r="3.45"/>
<circle cx="434.7" cy="319.5" r="3.45"/>
<circle cx="444.1" cy="320.1" r="3.45"/>
<circle cx="407.1" cy="314.8" r="3.45"/>
<circle cx="385.2" cy="316.3" r="3.45"/>
<circle cx="372.0" cy="317.6" r="3.45"/>
<circle cx="368.8" cy="321.3" r="3.45"/>
<circle cx="360.7" cy="322.0" r="3.45"/>
<circle cx="355.7" cy="327.6" r="3.45"/>
<circle cx="361.3" cy="325.1" r="3.45"/>
<circle cx="365.1" cy="330.1" r="3.45"/>
<circle cx="395.8" cy="330.8" r="3.45"/>
<circle cx="425.3" cy="327.6" r="3.45"/>
<circle cx="427.8" cy="331.4" r="3.45"/>
<circle cx="431.6" cy="337.7" r="3.45"/>
<circle cx="429.7" cy="335.2" r="3.45"/>
<circle cx="442.2" cy="337.7" r="3.45"/>
<circle cx="357.5" cy="340.2" r="3.45"/>
<circle cx="361.3" cy="337.0" r="3.45"/>
<circle cx="360.7" cy="343.9" r="3.45"/>
<circle cx="372.0" cy="338.9" r="3.45"/>
<circle cx="377.0" cy="344.6" r="3.45"/>
<circle cx="376.4" cy="349.0" r="3.45"/>
<circle cx="378.2" cy="352.1" r="3.45"/>
<circle cx="372.0" cy="350.8" r="3.45"/>
<circle cx="363.2" cy="352.7" r="3.45"/>
<circle cx="390.8" cy="343.3" r="3.45"/>
<circle cx="391.4" cy="347.7" r="3.45"/>
<circle cx="410.9" cy="340.2" r="3.45"/>
<circle cx="415.5" cy="344.9" r="3.45"/>
<circle cx="400.2" cy="349.6" r="3.45"/>
<circle cx="404.0" cy="354.0" r="3.45"/>
<circle cx="395.2" cy="352.1" r="3.45"/>
<circle cx="387.0" cy="354.6" r="3.45"/>
<circle cx="390.8" cy="357.7" r="3.45"/>
<circle cx="387.7" cy="360.2" r="3.45"/>
<circle cx="395.8" cy="360.2" r="3.45"/>
<circle cx="426.6" cy="352.7" r="3.45"/>
<circle cx="432.8" cy="356.5" r="3.45"/>
<circle cx="431.6" cy="360.9" r="3.45"/>
<circle cx="443.5" cy="355.2" r="3.45"/>
<circle cx="357.8" cy="364.5" r="3.45"/>
<circle cx="365.7" cy="362.1" r="3.45"/>
<circle cx="371.3" cy="363.4" r="3.45"/>
<circle cx="407.1" cy="362.8" r="3.45"/>
<circle cx="413.4" cy="363.4" r="3.45"/>
<circle cx="452.5" cy="308.2" r="3.45"/>
<circle cx="458.2" cy="303.2" r="3.45"/>
<circle cx="458.8" cy="308.2" r="3.45"/>
<circle cx="475.5" cy="307.5" r="3.45"/>
<circle cx="487.1" cy="303.8" r="3.45"/>
<circle cx="486.4" cy="306.3" r="3.45"/>
<circle cx="507.8" cy="306.3" r="3.45"/>
<circle cx="506.5" cy="314.4" r="3.45"/>
<circle cx="500.2" cy="318.8" r="3.45"/>
<circle cx="455.1" cy="325.1" r="3.45"/>
<circle cx="467.4" cy="323.9" r="3.45"/>
<circle cx="533.5" cy="321.6" r="3.45"/>
<circle cx="531.0" cy="330.4" r="3.45"/>
<circle cx="474.0" cy="335.0" r="3.45"/>
<circle cx="477.0" cy="335.5" r="3.45"/>
<circle cx="465.7" cy="339.9" r="3.45"/>
<circle cx="470.7" cy="342.9" r="3.45"/>
<circle cx="491.2" cy="340.2" r="3.45"/>
<circle cx="500.2" cy="334.9" r="3.45"/>
<circle cx="494.2" cy="347.1" r="3.45"/>
<circle cx="502.7" cy="347.7" r="3.45"/>
<circle cx="457.6" cy="353.3" r="3.45"/>
<circle cx="467.9" cy="353.0" r="3.45"/>
<circle cx="468.2" cy="359.0" r="3.45"/>
<circle cx="473.9" cy="359.0" r="3.45"/>
<circle cx="484.2" cy="357.1" r="3.45"/>
<circle cx="461.3" cy="363.4" r="3.45"/>
<circle cx="537.9" cy="360.9" r="3.45"/>
<circle cx="546.3" cy="318.8" r="3.45"/>
<circle cx="561.5" cy="318.0" r="3.45"/>
<circle cx="564.5" cy="319.0" r="3.45"/>
<circle cx="569.5" cy="322.4" r="3.45"/>
<circle cx="541.5" cy="337.7" r="3.45"/>
<circle cx="551.1" cy="353.3" r="3.45"/>
<circle cx="560.7" cy="350.2" r="3.45"/>
<circle cx="568.2" cy="350.2" r="3.45"/>
<circle cx="629.6" cy="325.1" r="3.45"/>
<circle cx="629.6" cy="354.6" r="3.45"/>
<circle cx="337.6" cy="354.7" r="3.45"/>
<circle cx="342.2" cy="355.5" r="3.45"/>
<circle cx="346.1" cy="355.5" r="3.45"/>
<circle cx="336.0" cy="362.5" r="3.45"/>
<circle cx="341.5" cy="362.5" r="3.45"/>
<circle cx="346.9" cy="361.7" r="3.45"/>
<circle cx="343.0" cy="367.2" r="3.45"/>
<circle cx="362.4" cy="361.7" r="3.45"/>
<circle cx="629.6" cy="166.4" r="3.45"/>
<circle cx="629.6" cy="199.5" r="3.45"/>
<circle cx="629.6" cy="231.4" r="3.45"/>
<circle cx="629.6" cy="263.2" r="3.45"/>
<circle cx="629.6" cy="294.1" r="3.45"/>
<circle cx="629.6" cy="325.1" r="3.45"/>
<circle cx="629.6" cy="354.6" r="3.45"/>
</g>
</g>
<rect x="59" y="1.5" width="571" height="518.5" fill="none" stroke="#a3a3a3" stroke-width="2.4" stroke-linejoin="round"/>
<g><line x1="178.20" y1="520" x2="178.20" y2="525" class="tk"/><line x1="309.70" y1="520" x2="309.70" y2="525" class="tk"/><line x1="441.20" y1="520" x2="441.20" y2="525" class="tk"/><line x1="572.70" y1="520" x2="572.70" y2="525" class="tk"/><line x1="54" y1="497.00" x2="59" y2="497.00" class="tk"/><line x1="54" y1="396.75" x2="59" y2="396.75" class="tk"/><line x1="54" y1="296.50" x2="59" y2="296.50" class="tk"/><line x1="54" y1="196.25" x2="59" y2="196.25" class="tk"/><line x1="54" y1="96.00" x2="59" y2="96.00" class="tk"/></g>
<g><text x="177.70" y="541.3" class="tl" text-anchor="middle">-5</text><text x="309.20" y="541.3" class="tl" text-anchor="middle">0</text><text x="440.70" y="541.3" class="tl" text-anchor="middle">5</text><text x="572.20" y="541.3" class="tl" text-anchor="middle">10</text><text x="49.5" y="502.00" class="tl" text-anchor="end">0</text><text x="49.5" y="401.75" class="tl" text-anchor="end">1</text><text x="49.5" y="301.50" class="tl" text-anchor="end">2</text><text x="49.5" y="201.25" class="tl" text-anchor="end">3</text><text x="49.5" y="101.00" class="tl" text-anchor="end">4</text></g>
<text x="322.9" y="572.4" class="at" textLength="51" lengthAdjust="spacingAndGlyphs">log2fc</text>
<text transform="translate(15.5,294.2) rotate(-90)" class="at" textLength="68.3" lengthAdjust="spacingAndGlyphs">-log10P</text>
<text x="644" y="215.3" class="at" textLength="38.6" lengthAdjust="spacingAndGlyphs">type</text>
<circle cx="658.2" cy="245" r="3.6" fill="#0000ff" fill-opacity="0.7"/>
<circle cx="658.2" cy="276.1" r="3.6" fill="#bebebe" fill-opacity="0.75"/>
<circle cx="658.2" cy="308.2" r="3.6" fill="#ff0000" fill-opacity="0.7"/>
<text x="682.6" y="251" class="lg" textLength="112.7" lengthAdjust="spacingAndGlyphs">Down-regulated</text>
<text x="682.6" y="282" class="lg" textLength="51" lengthAdjust="spacingAndGlyphs">Non-DE</text>
<text x="682.6" y="314" class="lg" textLength="92" lengthAdjust="spacingAndGlyphs">Up-regulated</text>
</svg></div>
</body></html>
